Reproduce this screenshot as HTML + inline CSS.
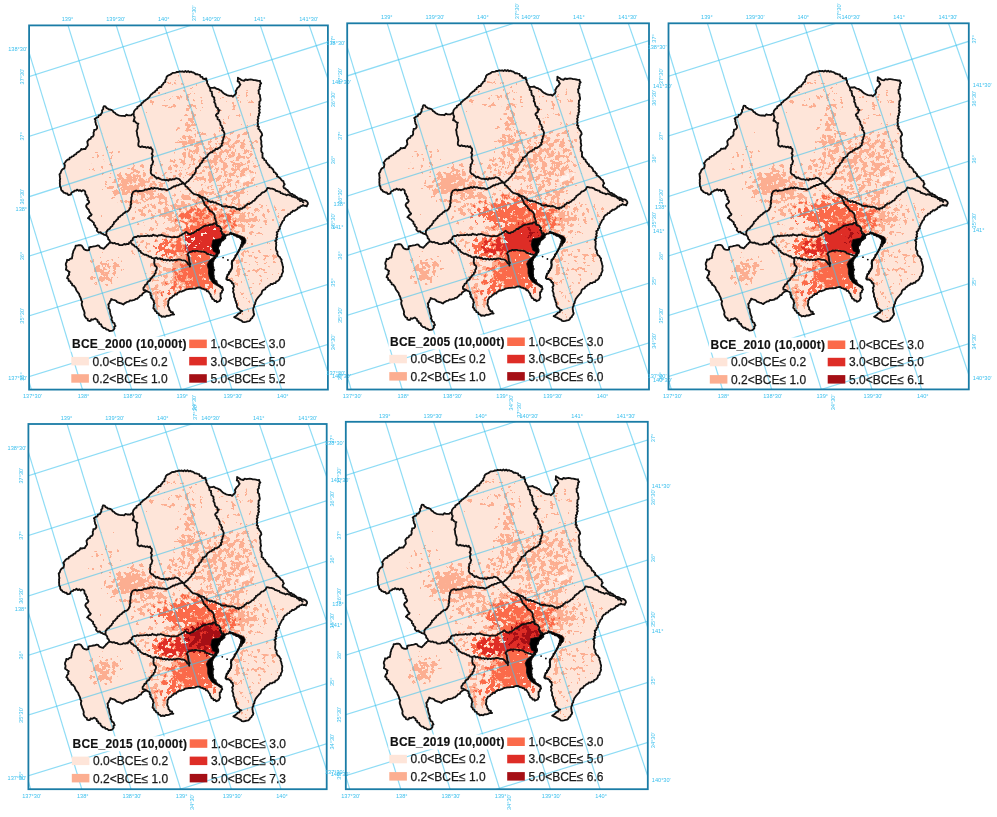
<!DOCTYPE html>
<html><head><meta charset="utf-8"><style>
html,body{margin:0;padding:0;background:#fff;}
svg{display:block;font-family:"Liberation Sans",sans-serif;filter:blur(0.4px);}
.frame{fill:none;stroke:#1a7ca6;stroke-width:1.8}
.lt{font-weight:bold;font-size:12px;letter-spacing:0.22px;fill:#111;stroke:#111;stroke-width:0.15px}
.lg{font-size:12px;fill:#1a1a1a;stroke:#1a1a1a;stroke-width:0.25px}
</style></head><body>
<svg width="997" height="817" viewBox="0 0 997 817">
<defs>
<filter id="s1" filterUnits="userSpaceOnUse" x="40" y="60" width="280" height="280" color-interpolation-filters="sRGB">
<feGaussianBlur in="SourceAlpha" stdDeviation="5" result="d0"/>
<feComponentTransfer in="d0" result="d"><feFuncA type="table" tableValues="0.000 0.298 0.341 0.373 0.396 0.420 0.439 0.455 0.475 0.490 0.502 0.510 0.525 0.545 0.561 0.580 0.604 0.627 0.659 0.702 0.8"/></feComponentTransfer>
<feTurbulence type="fractalNoise" baseFrequency="0.22" numOctaves="3" seed="11" result="n"/>
<feComposite in="d" in2="n" operator="arithmetic" k2="1" k3="1" k4="-1" result="v"/>
<feComponentTransfer in="v" result="m"><feFuncA type="linear" slope="60" intercept="0"/></feComponentTransfer>
<feFlood flood-color="#fcae91"/>
<feComposite in2="m" operator="in"/>
<feGaussianBlur stdDeviation="0.35"/>
</filter>
<filter id="s2" filterUnits="userSpaceOnUse" x="40" y="60" width="280" height="280" color-interpolation-filters="sRGB">
<feGaussianBlur in="SourceAlpha" stdDeviation="3" result="d0"/>
<feComponentTransfer in="d0" result="d"><feFuncA type="table" tableValues="0.000 0.298 0.341 0.373 0.396 0.420 0.439 0.455 0.475 0.490 0.502 0.510 0.525 0.545 0.561 0.580 0.604 0.627 0.659 0.702 0.8"/></feComponentTransfer>
<feTurbulence type="fractalNoise" baseFrequency="0.22" numOctaves="3" seed="11" result="n"/>
<feComposite in="d" in2="n" operator="arithmetic" k2="1" k3="1" k4="-1" result="v"/>
<feComponentTransfer in="v" result="m"><feFuncA type="linear" slope="60" intercept="0"/></feComponentTransfer>
<feFlood flood-color="#fb6a4a"/>
<feComposite in2="m" operator="in"/>
<feGaussianBlur stdDeviation="0.35"/>
</filter>
<filter id="s3" filterUnits="userSpaceOnUse" x="40" y="60" width="280" height="280" color-interpolation-filters="sRGB">
<feGaussianBlur in="SourceAlpha" stdDeviation="1.2" result="d0"/>
<feComponentTransfer in="d0" result="d"><feFuncA type="table" tableValues="0.000 0.298 0.341 0.373 0.396 0.420 0.439 0.455 0.475 0.490 0.502 0.510 0.525 0.545 0.561 0.580 0.604 0.627 0.659 0.702 0.8"/></feComponentTransfer>
<feTurbulence type="fractalNoise" baseFrequency="0.22" numOctaves="3" seed="11" result="n"/>
<feComposite in="d" in2="n" operator="arithmetic" k2="1" k3="1" k4="-1" result="v"/>
<feComponentTransfer in="v" result="m"><feFuncA type="linear" slope="60" intercept="0"/></feComponentTransfer>
<feFlood flood-color="#de2d26"/>
<feComposite in2="m" operator="in"/>
<feGaussianBlur stdDeviation="0.35"/>
</filter>
<filter id="s4" filterUnits="userSpaceOnUse" x="40" y="60" width="280" height="280" color-interpolation-filters="sRGB">
<feGaussianBlur in="SourceAlpha" stdDeviation="3" result="d0"/>
<feComponentTransfer in="d0" result="d"><feFuncA type="table" tableValues="0.000 0.298 0.341 0.373 0.396 0.420 0.439 0.455 0.475 0.490 0.502 0.510 0.525 0.545 0.561 0.580 0.604 0.627 0.659 0.702 0.8"/></feComponentTransfer>
<feTurbulence type="fractalNoise" baseFrequency="0.22" numOctaves="3" seed="11" result="n"/>
<feComposite in="d" in2="n" operator="arithmetic" k2="1" k3="1" k4="-1" result="v"/>
<feComponentTransfer in="v" result="m"><feFuncA type="linear" slope="60" intercept="0"/></feComponentTransfer>
<feFlood flood-color="#a50f15"/>
<feComposite in2="m" operator="in"/>
<feGaussianBlur stdDeviation="0.35"/>
</filter>
<clipPath id="kclip"><polygon points="103.9,106.1 106.3,108.0 111.2,109.8 113.6,112.2 118.5,115.3 123.4,115.9 129.6,115.3 133.5,114.0 135.0,110.0 139.6,105.3 148.2,98.0 155.5,90.6 162.8,84.5 165.3,82.0 166.5,77.1 172.6,72.9 181.2,71.6 191.0,71.6 198.3,74.7 204.5,79.0 206.3,78.4 208.1,84.5 209.8,88.2 214.7,87.5 219.6,90.0 223.3,93.0 228.2,95.5 233.0,96.7 235.5,94.3 236.7,89.4 240.4,84.5 237.9,79.6 237.9,77.7 241.6,80.2 244.1,80.8 249.0,79.6 255.1,80.2 260.0,80.8 261.2,83.3 260.0,84.5 258.8,91.8 260.0,96.7 260.6,99.2 259.4,101.6 260.0,106.5 258.8,113.9 258.1,121.2 257.5,126.1 260.0,131.0 261.8,133.4 260.6,138.3 261.2,143.2 261.2,148.1 262.6,156.1 264.3,160.0 267.5,163.5 273.6,170.8 278.5,176.9 283.4,181.2 284.7,184.3 283.4,186.7 288.3,191.6 295.7,196.5 303.0,200.2 306.7,201.4 307.9,203.9 306.7,206.3 303.0,205.0 298.1,207.5 295.7,210.0 290.8,212.4 285.9,216.1 282.2,222.2 278.5,229.6 276.1,238.1 275.9,247.8 277.7,254.7 281.6,259.6 282.6,265.5 283.1,271.3 281.6,276.2 278.7,280.2 273.8,283.1 267.3,287.0 262.2,291.0 260.2,295.0 256.2,300.0 254.2,305.0 253.2,310.0 254.2,314.1 252.2,318.1 249.2,321.1 244.2,322.1 240.2,320.1 236.2,318.1 234.2,317.1 237.2,315.1 240.2,313.1 242.2,311.1 239.2,309.1 237.2,307.1 236.2,303.1 235.2,300.1 234.2,295.0 233.6,290.0 233.6,285.0 233.4,283.9 230.3,280.7 226.3,279.1 227.1,276.0 230.3,271.2 231.8,267.2 231.8,262.4 234.2,258.4 237.4,252.9 239.8,248.9 241.8,244.1 242.2,240.1 239.8,237.7 234.2,235.4 230.3,233.0 226.3,235.4 223.9,239.3 220.7,242.5 218.3,247.3 219.1,252.1 215.9,256.8 212.7,262.4 213.5,267.2 213.5,272.8 214.3,279.1 217.5,283.9 222.3,287.1 223.1,290.0 220.6,295.0 221.1,298.5 218.5,301.5 216.9,302.2 214.5,301.0 210.8,296.1 208.3,291.2 203.4,288.8 198.5,287.5 191.2,288.8 185.1,290.0 179.0,292.4 172.8,296.1 169.2,299.8 167.9,305.9 170.4,310.8 174.1,314.5 171.6,314.5 166.7,315.7 161.8,316.9 156.9,313.2 153.3,308.3 154.5,303.4 152.0,298.5 149.6,292.4 147.1,291.2 143.5,293.0 138.1,297.7 133.2,300.2 125.9,302.6 123.4,304.5 118.5,302.6 114.9,300.2 111.2,299.0 110.0,301.4 108.8,306.3 110.0,311.2 111.2,316.1 112.4,321.0 115.5,325.9 113.6,329.6 111.2,330.8 106.3,329.6 102.6,327.1 99.0,322.2 95.3,318.5 89.2,321.0 85.5,317.3 83.0,308.8 81.8,305.1 81.2,300.2 80.0,296.5 78.2,292.8 74.5,286.7 70.8,283.0 67.1,278.1 69.6,272.0 65.9,269.6 65.9,263.4 67.1,259.8 72.0,258.5 73.3,251.2 75.7,245.7 81.8,245.7 83.0,247.5 85.5,250.0 89.2,250.0 89.2,247.5 94.1,246.3 99.0,245.7 100.2,247.5 103.9,248.8 106.3,246.3 110.0,242.6 110.0,241.4 106.3,235.3 103.9,234.7 97.7,231.6 95.3,225.5 91.6,220.6 87.9,218.2 91.6,214.5 89.2,211.4 86.1,205.9 89.2,202.2 86.7,196.7 84.3,190.6 74.5,190.6 69.6,194.9 65.9,193.6 61.6,190.6 59.8,183.2 59.8,175.9 61.6,170.4 64.7,166.7 64.1,163.6 65.9,161.2 72.0,156.3 79.4,151.4 81.2,149.0 85.5,149.0 87.9,145.3 87.3,141.6 89.2,139.2 93.5,135.5 94.1,130.0 97.1,128.2 95.9,124.5 94.7,119.0 96.5,117.7 101.4,113.5 103.2,109.2"/></clipPath>
<clipPath id="tclip"><polygon points="130.8,242.6 133.7,237.3 142.2,236.1 154.5,235.5 163.0,235.5 171.6,237.3 179.0,236.7 183.9,233.7 186.3,231.8 189.0,234.0 193.6,233.0 201.0,228.1 205.9,225.7 210.8,224.5 215.7,223.2 218.5,226.0 220.6,228.1 222.0,232.0 223.5,236.5 221.1,239.4 218.2,242.3 216.2,246.2 217.2,251.1 216.2,256.0 213.2,255.7 209.6,254.5 204.7,252.0 197.3,250.8 190.0,252.0 187.5,254.5 188.8,256.9 190.0,266.7 187.5,263.0 185.1,260.6 179.0,259.4 172.8,260.6 166.7,260.6 159.4,258.2 153.3,258.2 148.4,255.7 142.2,253.3 137.3,248.4 132.4,244.7"/></clipPath>
<g id="mapbase"><polygon points="103.9,106.1 106.3,108.0 111.2,109.8 113.6,112.2 118.5,115.3 123.4,115.9 129.6,115.3 133.5,114.0 135.0,110.0 139.6,105.3 148.2,98.0 155.5,90.6 162.8,84.5 165.3,82.0 166.5,77.1 172.6,72.9 181.2,71.6 191.0,71.6 198.3,74.7 204.5,79.0 206.3,78.4 208.1,84.5 209.8,88.2 214.7,87.5 219.6,90.0 223.3,93.0 228.2,95.5 233.0,96.7 235.5,94.3 236.7,89.4 240.4,84.5 237.9,79.6 237.9,77.7 241.6,80.2 244.1,80.8 249.0,79.6 255.1,80.2 260.0,80.8 261.2,83.3 260.0,84.5 258.8,91.8 260.0,96.7 260.6,99.2 259.4,101.6 260.0,106.5 258.8,113.9 258.1,121.2 257.5,126.1 260.0,131.0 261.8,133.4 260.6,138.3 261.2,143.2 261.2,148.1 262.6,156.1 264.3,160.0 267.5,163.5 273.6,170.8 278.5,176.9 283.4,181.2 284.7,184.3 283.4,186.7 288.3,191.6 295.7,196.5 303.0,200.2 306.7,201.4 307.9,203.9 306.7,206.3 303.0,205.0 298.1,207.5 295.7,210.0 290.8,212.4 285.9,216.1 282.2,222.2 278.5,229.6 276.1,238.1 275.9,247.8 277.7,254.7 281.6,259.6 282.6,265.5 283.1,271.3 281.6,276.2 278.7,280.2 273.8,283.1 267.3,287.0 262.2,291.0 260.2,295.0 256.2,300.0 254.2,305.0 253.2,310.0 254.2,314.1 252.2,318.1 249.2,321.1 244.2,322.1 240.2,320.1 236.2,318.1 234.2,317.1 237.2,315.1 240.2,313.1 242.2,311.1 239.2,309.1 237.2,307.1 236.2,303.1 235.2,300.1 234.2,295.0 233.6,290.0 233.6,285.0 233.4,283.9 230.3,280.7 226.3,279.1 227.1,276.0 230.3,271.2 231.8,267.2 231.8,262.4 234.2,258.4 237.4,252.9 239.8,248.9 241.8,244.1 242.2,240.1 239.8,237.7 234.2,235.4 230.3,233.0 226.3,235.4 223.9,239.3 220.7,242.5 218.3,247.3 219.1,252.1 215.9,256.8 212.7,262.4 213.5,267.2 213.5,272.8 214.3,279.1 217.5,283.9 222.3,287.1 223.1,290.0 220.6,295.0 221.1,298.5 218.5,301.5 216.9,302.2 214.5,301.0 210.8,296.1 208.3,291.2 203.4,288.8 198.5,287.5 191.2,288.8 185.1,290.0 179.0,292.4 172.8,296.1 169.2,299.8 167.9,305.9 170.4,310.8 174.1,314.5 171.6,314.5 166.7,315.7 161.8,316.9 156.9,313.2 153.3,308.3 154.5,303.4 152.0,298.5 149.6,292.4 147.1,291.2 143.5,293.0 138.1,297.7 133.2,300.2 125.9,302.6 123.4,304.5 118.5,302.6 114.9,300.2 111.2,299.0 110.0,301.4 108.8,306.3 110.0,311.2 111.2,316.1 112.4,321.0 115.5,325.9 113.6,329.6 111.2,330.8 106.3,329.6 102.6,327.1 99.0,322.2 95.3,318.5 89.2,321.0 85.5,317.3 83.0,308.8 81.8,305.1 81.2,300.2 80.0,296.5 78.2,292.8 74.5,286.7 70.8,283.0 67.1,278.1 69.6,272.0 65.9,269.6 65.9,263.4 67.1,259.8 72.0,258.5 73.3,251.2 75.7,245.7 81.8,245.7 83.0,247.5 85.5,250.0 89.2,250.0 89.2,247.5 94.1,246.3 99.0,245.7 100.2,247.5 103.9,248.8 106.3,246.3 110.0,242.6 110.0,241.4 106.3,235.3 103.9,234.7 97.7,231.6 95.3,225.5 91.6,220.6 87.9,218.2 91.6,214.5 89.2,211.4 86.1,205.9 89.2,202.2 86.7,196.7 84.3,190.6 74.5,190.6 69.6,194.9 65.9,193.6 61.6,190.6 59.8,183.2 59.8,175.9 61.6,170.4 64.7,166.7 64.1,163.6 65.9,161.2 72.0,156.3 79.4,151.4 81.2,149.0 85.5,149.0 87.9,145.3 87.3,141.6 89.2,139.2 93.5,135.5 94.1,130.0 97.1,128.2 95.9,124.5 94.7,119.0 96.5,117.7 101.4,113.5 103.2,109.2" fill="#fee5d9"/></g>
<g id="gridl" stroke="#3cc2ee" stroke-opacity="0.58" stroke-width="1.2"><line x1="-91.5" y1="-20" x2="40.5" y2="420"/>
<line x1="-41.4" y1="-20" x2="91.7" y2="420"/>
<line x1="7.0" y1="-20" x2="141.0" y2="420"/>
<line x1="53.9" y1="-20" x2="190.8" y2="420"/>
<line x1="101.8" y1="-20" x2="241.7" y2="420"/>
<line x1="149.7" y1="-20" x2="291.5" y2="420"/>
<line x1="196.9" y1="-20" x2="343.9" y2="420"/>
<line x1="244.8" y1="-20" x2="394.9" y2="420"/>
<line x1="293.3" y1="-20" x2="447.3" y2="420"/>
<line x1="0" y1="85.7" x2="360" y2="-28.2"/>
<line x1="0" y1="145.5" x2="360" y2="31.9"/>
<line x1="0" y1="206.0" x2="360" y2="91.2"/>
<line x1="0" y1="265.3" x2="360" y2="151.9"/>
<line x1="0" y1="324.8" x2="360" y2="213.4"/>
<line x1="0" y1="385.6" x2="360" y2="274.6"/>
<line x1="0" y1="446.0" x2="360" y2="334.5"/></g>
<g id="bnd" fill="none" stroke="#111" stroke-width="1.85" stroke-linejoin="round"><polygon points="103.9,106.1 105.6,106.4 106.3,108.0 107.6,108.3 108.6,109.3 109.9,109.5 111.2,109.8 112.7,110.7 113.6,112.2 115.0,112.8 115.9,114.0 117.2,114.6 118.5,115.3 120.1,115.7 121.7,115.9 123.4,115.9 125.0,116.2 126.4,114.7 128.0,115.3 129.6,115.3 131.1,115.4 132.2,114.3 133.5,114.0 133.8,112.6 134.1,111.2 135.0,110.0 135.9,109.0 137.3,108.5 137.3,106.8 138.7,106.3 139.6,105.3 141.1,104.9 141.6,103.3 142.9,102.6 143.7,101.4 144.9,100.7 146.0,99.8 147.2,99.0 148.2,98.0 149.4,97.1 150.1,95.7 151.0,94.5 152.3,93.7 153.3,92.6 154.8,92.0 155.5,90.6 156.9,90.2 157.3,88.5 158.7,88.0 159.4,86.8 161.3,87.0 161.7,85.3 162.8,84.5 163.6,82.8 165.3,82.0 165.2,80.2 166.3,78.8 166.5,77.1 167.5,75.9 168.8,75.2 170.2,74.6 171.5,73.9 172.6,72.9 174.0,72.8 175.5,72.7 176.9,71.9 178.3,72.0 179.7,71.3 181.2,71.6 182.6,71.3 184.0,72.0 185.4,71.0 186.8,72.0 188.2,71.1 189.6,72.2 191.0,71.6 192.1,72.3 193.5,72.5 194.6,73.2 195.7,74.2 197.1,74.2 198.3,74.7 200.0,74.9 200.5,76.8 202.3,76.9 202.9,78.6 204.5,79.0 206.3,78.4 206.3,80.1 207.2,81.4 207.0,83.2 208.1,84.5 208.4,85.8 209.4,86.9 209.8,88.2 211.4,87.9 213.1,87.9 214.7,87.5 215.8,88.4 217.0,89.0 218.5,89.2 219.6,90.0 221.1,90.7 222.2,91.9 223.3,93.0 224.4,93.8 225.7,94.4 226.9,95.1 228.2,95.5 229.8,95.8 231.6,95.7 233.0,96.7 234.1,95.4 235.5,94.3 236.2,92.7 235.7,90.9 236.7,89.4 237.4,88.0 238.7,87.1 239.6,85.8 240.4,84.5 239.5,83.4 239.2,82.0 237.6,81.3 237.9,79.6 237.9,77.7 239.1,78.5 240.4,79.3 241.6,80.2 244.1,80.8 245.5,79.5 247.4,80.0 249.0,79.6 250.5,79.5 252.1,79.7 253.6,80.1 255.1,80.2 256.7,80.5 258.3,80.9 260.0,80.8 260.2,82.2 261.2,83.3 260.0,84.5 260.2,86.0 259.5,87.4 259.8,89.0 258.5,90.3 258.8,91.8 258.7,93.5 260.0,95.0 260.0,96.7 260.6,99.2 260.5,100.6 259.4,101.6 259.5,103.2 259.1,105.0 260.0,106.5 258.8,107.8 259.8,109.5 259.0,110.9 259.9,112.6 258.8,113.9 259.2,115.4 257.9,116.8 258.6,118.3 257.5,119.7 258.1,121.2 257.6,122.8 258.1,124.5 257.5,126.1 258.9,126.9 258.2,128.8 259.6,129.7 260.0,131.0 261.1,132.1 261.8,133.4 262.2,135.2 261.0,136.7 260.6,138.3 261.0,139.9 261.4,141.5 261.2,143.2 261.4,144.8 261.9,146.5 261.2,148.1 261.3,149.5 261.2,150.8 261.7,152.1 262.7,153.3 262.4,154.8 262.6,156.1 262.4,157.7 264.0,158.6 264.3,160.0 266.0,160.6 266.3,162.5 267.5,163.5 268.1,164.8 269.5,165.4 269.4,167.2 271.2,167.5 272.1,168.5 273.1,169.5 273.6,170.8 273.9,172.2 275.5,172.6 276.0,173.9 277.2,174.6 277.0,176.4 278.5,176.9 279.4,177.8 280.5,178.6 281.2,179.7 282.1,180.7 283.4,181.2 283.8,182.9 284.7,184.3 283.8,185.4 283.4,186.7 284.0,188.1 285.5,188.5 286.3,189.7 287.7,190.2 288.3,191.6 289.5,192.5 290.4,193.8 292.2,193.8 293.1,195.0 294.7,195.3 295.7,196.5 296.9,197.1 297.9,198.3 299.3,198.4 300.7,198.7 301.9,199.4 303.0,200.2 305.0,200.3 306.7,201.4 307.7,202.5 307.9,203.9 307.2,205.0 306.7,206.3 305.5,205.8 304.1,205.9 303.0,205.0 301.9,206.0 300.5,206.1 299.7,207.6 298.1,207.5 297.3,209.2 295.7,210.0 294.6,210.9 293.0,210.6 292.1,212.0 290.8,212.4 290.1,214.0 288.2,214.1 287.5,215.7 285.9,216.1 285.0,217.3 284.2,218.4 284.1,220.0 282.8,220.9 282.2,222.2 281.6,223.5 280.8,224.6 280.5,226.0 279.6,227.0 279.9,228.8 278.5,229.6 278.4,231.1 276.7,232.2 277.4,233.9 276.6,235.2 277.3,236.9 276.1,238.1 276.8,239.5 275.2,240.9 276.4,242.3 276.0,243.6 276.3,245.0 276.1,246.4 275.9,247.8 276.0,249.2 276.4,250.6 277.5,251.8 277.2,253.4 277.7,254.7 278.4,256.2 279.9,257.0 280.5,258.5 281.6,259.6 281.3,261.2 282.0,262.6 282.3,264.0 282.6,265.5 283.1,266.9 283.0,268.4 282.7,269.9 283.1,271.3 282.5,272.9 281.7,274.4 281.6,276.2 280.0,277.1 279.7,278.9 278.7,280.2 277.6,281.1 276.2,281.5 275.5,283.1 273.8,283.1 272.7,284.2 270.7,283.9 269.9,285.4 268.3,285.7 267.3,287.0 265.8,287.7 265.1,289.4 263.4,289.9 262.2,291.0 261.8,292.4 261.4,293.9 260.2,295.0 259.2,296.2 258.1,297.4 257.1,298.7 256.2,300.0 255.8,301.3 255.2,302.5 255.2,303.9 254.2,305.0 254.1,306.7 253.3,308.3 253.2,310.0 253.5,311.4 253.6,312.8 254.2,314.1 253.8,315.6 252.7,316.7 252.2,318.1 250.9,318.8 250.3,320.2 249.2,321.1 247.5,321.4 245.9,321.8 244.2,322.1 242.6,321.9 241.6,320.7 240.2,320.1 238.9,319.4 237.6,318.6 236.2,318.1 234.2,317.1 235.8,316.2 237.2,315.1 238.4,313.7 240.2,313.1 240.7,311.6 242.2,311.1 240.4,310.5 239.2,309.1 237.9,308.4 237.2,307.1 236.8,305.8 237.0,304.3 236.2,303.1 235.9,301.5 235.2,300.1 235.1,298.4 234.0,296.8 234.2,295.0 233.8,293.4 233.0,291.8 233.6,290.0 232.9,288.3 234.0,286.7 233.6,285.0 233.4,283.9 232.0,283.2 231.5,281.6 230.3,280.7 229.1,279.9 227.4,280.1 226.3,279.1 226.6,277.5 227.1,276.0 227.5,274.5 229.0,273.8 228.9,272.0 230.3,271.2 230.5,269.7 231.9,268.8 231.8,267.2 232.2,265.6 231.6,264.0 231.8,262.4 232.0,260.7 233.5,259.8 234.2,258.4 235.3,257.2 235.4,255.4 236.8,254.4 237.4,252.9 238.4,251.7 238.8,250.1 239.8,248.9 240.1,247.6 240.8,246.5 240.9,245.1 241.8,244.1 241.7,242.7 242.1,241.4 242.2,240.1 240.9,239.0 239.8,237.7 238.5,236.8 236.9,236.8 235.9,235.2 234.2,235.4 233.4,233.8 231.4,234.1 230.3,233.0 229.4,234.5 227.6,234.6 226.3,235.4 225.1,236.5 225.3,238.3 223.9,239.3 222.9,240.4 221.3,241.0 220.7,242.5 220.1,243.7 220.0,245.1 218.6,246.0 218.3,247.3 217.8,249.0 219.0,250.5 219.1,252.1 218.6,253.5 217.2,254.3 217.3,256.0 215.9,256.8 215.1,258.2 213.6,259.2 213.5,261.0 212.7,262.4 212.9,264.0 212.4,265.7 213.5,267.2 213.2,268.6 214.3,270.0 213.3,271.4 213.5,272.8 213.1,274.4 213.8,276.0 213.2,277.6 214.3,279.1 214.8,280.5 216.5,281.1 216.7,282.7 217.5,283.9 218.4,285.2 219.9,285.5 220.9,286.6 222.3,287.1 222.6,288.6 223.1,290.0 222.0,291.0 221.9,292.5 220.5,293.4 220.6,295.0 220.5,296.8 221.1,298.5 220.2,299.4 219.8,300.9 218.5,301.5 216.9,302.2 216.1,300.8 214.5,301.0 213.9,299.5 212.2,298.9 211.8,297.3 210.8,296.1 210.7,294.6 209.7,293.6 209.0,292.4 208.3,291.2 206.8,291.2 206.1,289.6 204.5,289.6 203.4,288.8 201.7,288.5 200.3,287.4 198.5,287.5 197.0,287.7 195.7,288.5 194.2,288.6 192.7,288.6 191.2,288.8 189.6,288.8 188.1,289.2 186.5,289.3 185.1,290.0 184.0,290.7 182.7,291.0 181.5,291.7 180.0,291.3 179.0,292.4 177.6,292.9 176.9,294.5 175.0,294.2 174.2,295.6 172.8,296.1 171.9,297.6 169.9,298.1 169.2,299.8 168.2,301.2 168.4,302.8 168.1,304.4 167.9,305.9 168.7,307.1 169.3,308.3 169.2,309.8 170.4,310.8 170.9,312.1 172.8,312.1 173.0,313.8 174.1,314.5 171.6,314.5 170.1,315.4 168.5,315.9 166.7,315.7 165.2,316.8 163.4,316.3 161.8,316.9 160.8,315.6 159.2,315.2 158.7,313.4 156.9,313.2 156.5,311.6 155.0,310.9 154.5,309.3 153.3,308.3 153.7,306.7 153.7,304.9 154.5,303.4 153.8,302.2 153.7,300.7 152.8,299.6 152.0,298.5 151.0,297.5 151.5,295.9 150.4,294.9 150.6,293.4 149.6,292.4 148.3,291.9 147.1,291.2 145.8,291.7 144.6,292.1 143.5,293.0 142.4,293.9 141.8,295.4 140.0,295.6 139.3,296.9 138.1,297.7 137.2,298.9 135.6,298.9 134.6,299.9 133.2,300.2 131.7,300.6 130.0,300.4 128.8,301.7 127.3,301.8 125.9,302.6 124.5,303.4 123.4,304.5 122.2,303.9 121.1,303.3 119.7,303.0 118.5,302.6 117.1,302.1 116.2,300.9 114.9,300.2 113.0,299.8 111.2,299.0 111.0,300.4 110.0,301.4 109.6,303.0 108.3,304.4 108.8,306.3 108.5,308.1 109.7,309.5 110.0,311.2 110.2,312.9 110.6,314.5 111.2,316.1 111.9,317.7 111.4,319.5 112.4,321.0 112.7,322.5 114.4,323.2 114.8,324.6 115.5,325.9 114.2,326.8 114.5,328.5 113.6,329.6 112.6,330.6 111.2,330.8 109.4,331.0 108.0,329.6 106.3,329.6 105.5,328.1 103.7,328.1 102.6,327.1 101.5,326.0 101.2,324.4 99.2,323.9 99.0,322.2 97.6,321.8 97.5,320.0 96.2,319.4 95.3,318.5 94.1,319.0 92.9,319.7 91.3,319.3 90.6,320.9 89.2,321.0 87.8,320.5 87.7,318.8 86.4,318.3 85.5,317.3 84.7,316.0 84.3,314.6 84.6,313.0 84.2,311.5 83.7,310.1 83.0,308.8 82.5,306.9 81.8,305.1 81.7,303.5 82.2,301.7 81.2,300.2 80.9,298.3 80.0,296.5 79.4,295.3 79.1,293.9 78.2,292.8 77.3,291.7 76.4,290.5 75.9,289.2 75.5,287.8 74.5,286.7 73.7,285.7 72.2,285.3 72.0,283.6 70.8,283.0 70.4,281.4 68.7,280.8 68.5,279.0 67.1,278.1 67.6,276.9 68.1,275.7 69.2,274.7 68.9,273.1 69.6,272.0 68.4,271.2 67.2,270.3 65.9,269.6 66.2,268.1 66.4,266.5 65.8,264.9 65.9,263.4 66.8,261.7 67.1,259.8 68.9,260.1 70.3,258.7 72.0,258.5 72.1,257.0 72.5,255.6 72.5,254.1 73.1,252.7 73.3,251.2 74.0,249.9 74.8,248.6 75.3,247.2 75.7,245.7 77.2,245.6 78.8,245.2 80.3,245.2 81.8,245.7 83.0,247.5 83.9,249.1 85.5,250.0 87.3,250.3 89.2,250.0 89.2,247.5 90.8,247.0 92.5,246.7 94.1,246.3 95.7,246.1 97.3,245.5 99.0,245.7 100.2,247.5 101.4,247.9 102.7,248.3 103.9,248.8 105.0,247.4 106.3,246.3 107.0,245.1 108.1,244.4 108.9,243.3 110.0,242.6 110.0,241.4 109.4,240.1 108.2,239.2 108.1,237.6 107.3,236.4 106.3,235.3 103.9,234.7 102.8,233.8 101.4,233.4 100.5,232.1 98.7,232.6 97.7,231.6 96.8,230.6 97.3,228.9 96.4,227.9 95.2,226.9 95.3,225.5 93.9,224.6 93.9,222.7 92.5,221.8 91.6,220.6 90.2,220.0 89.3,218.8 87.9,218.2 88.9,217.3 89.6,216.2 91.0,215.7 91.6,214.5 90.6,213.6 89.9,212.5 89.2,211.4 88.8,209.8 87.6,208.7 86.6,207.4 86.1,205.9 86.8,204.4 88.3,203.6 89.2,202.2 88.7,200.8 87.4,199.7 87.9,197.8 86.7,196.7 86.6,195.3 85.4,194.4 85.3,193.0 85.2,191.7 84.3,190.6 82.9,190.2 81.5,191.4 80.1,190.1 78.7,190.9 77.3,189.6 75.9,190.7 74.5,190.6 73.8,191.7 72.3,192.1 71.3,192.9 70.9,194.4 69.6,194.9 68.2,195.0 67.3,193.5 65.9,193.6 64.8,192.8 63.5,192.5 62.8,191.2 61.6,190.6 61.0,189.2 60.9,187.6 60.0,186.3 60.0,184.7 59.8,183.2 60.0,181.7 59.8,180.3 60.2,178.8 59.9,177.4 59.8,175.9 59.5,174.3 60.6,173.1 61.0,171.7 61.6,170.4 62.7,169.2 64.3,168.5 64.7,166.7 64.9,165.1 64.1,163.6 65.1,162.5 65.9,161.2 66.8,160.3 67.9,159.5 69.4,159.3 69.7,157.6 71.2,157.3 72.0,156.3 73.6,156.1 74.4,154.6 76.0,154.3 76.8,152.8 78.1,152.1 79.4,151.4 80.6,150.4 81.2,149.0 82.6,149.3 84.1,148.9 85.5,149.0 86.1,147.6 87.0,146.5 87.9,145.3 87.6,143.5 87.3,141.6 88.2,140.4 89.2,139.2 90.7,138.8 91.2,137.2 92.7,136.7 93.5,135.5 93.7,134.1 93.5,132.7 94.1,131.4 94.1,130.0 96.0,129.7 97.1,128.2 97.0,126.2 95.9,124.5 95.8,123.1 95.3,121.8 95.5,120.3 94.7,119.0 96.5,117.7 98.2,117.2 98.8,115.4 100.6,115.0 101.4,113.5 102.2,112.1 102.0,110.4 103.2,109.2 103.2,107.6"/>
<polygon points="223.6,233.0 220.8,238.5 212.9,240.1 211.7,245.7 213.3,251.3 216.4,252.9 214.0,256.8 209.1,260.8 207.1,264.8 208.5,269.6 208.5,274.4 209.9,279.1 212.9,283.1 218.2,286.3 221.7,288.7 222.3,287.1 217.5,283.9 214.3,279.1 213.5,272.8 213.5,267.2 212.7,262.4 215.9,256.8 219.1,252.1 218.3,247.3 220.7,242.5 223.9,239.3 226.3,235.4" fill="#000" stroke-width="0.8"/>
<polygon points="230.3,232.2 236.0,234.2 241.0,236.0 244.5,237.5 246.0,240.0 245.5,243.0 243.5,245.0 242.3,247.5 242.5,244.1 240.5,248.9 238.1,252.9 234.9,258.4 232.5,262.4 232.5,267.2 231.0,271.2 227.8,276.0 227.0,279.1 231.0,280.7 234.1,283.9 233.4,283.9 230.3,280.7 226.3,279.1 227.1,276.0 230.3,271.2 231.8,267.2 231.8,262.4 234.2,258.4 237.4,252.9 239.8,248.9 241.8,244.1 242.2,240.1 239.8,237.7 234.2,235.4 230.3,233.0" fill="#000" stroke-width="0.8"/>
<circle cx="223.1" cy="257.6" r="0.9" fill="#000" stroke="none"/><circle cx="227.9" cy="260" r="0.9" fill="#000" stroke="none"/>
<polyline points="133.5,114.0 133.9,115.8 134.7,117.5 134.1,119.4 133.5,121.2 135.0,121.2 135.9,122.5 137.0,123.3 138.4,123.6 137.6,125.0 137.7,126.6 137.7,128.1 137.1,129.6 136.5,131.0 137.0,132.4 137.1,134.0 137.3,135.5 137.8,136.9 138.4,138.3 138.5,139.8 138.9,141.3 138.5,142.7 138.3,144.2 138.4,145.7 139.4,146.5 140.6,147.1 142.1,146.2 143.5,147.1 145.0,146.9 146.4,147.8 147.9,147.0 149.3,148.1 150.8,147.3 151.2,148.6 152.5,149.5 152.6,151.0 152.5,152.5 151.6,153.9 152.8,155.5 152.2,156.9 152.0,158.4 152.3,160.0 153.2,161.6 152.6,163.3 152.4,164.6 151.1,165.5 151.4,167.0 150.8,168.2 151.2,169.8 150.8,171.4 150.8,173.0 151.5,174.1 152.4,175.1 154.0,175.3 154.5,176.7 155.8,177.1 156.6,178.6 158.4,177.7 159.4,178.7 160.6,179.2 162.2,179.8 164.0,179.6 165.5,180.4 166.9,179.7 168.5,180.7 169.8,179.2 171.4,179.9 172.8,179.2 174.5,179.3 176.0,178.1 177.7,178.6 179.3,179.1 180.3,180.4 181.4,181.6 183.0,182.5 184.0,184.0"/>
<polyline points="209.8,88.2 210.3,89.4 210.2,90.9 211.9,91.6 211.7,93.1 212.2,94.3 212.1,95.8 213.2,96.7 214.3,97.7 214.1,99.2 214.7,100.4 214.2,102.1 215.3,103.5 215.5,105.0 215.9,106.5 216.6,107.6 218.0,108.1 218.1,109.9 219.6,110.2 218.6,111.4 218.3,113.1 216.9,113.9 215.9,115.1 216.4,116.5 217.7,117.3 217.5,119.1 219.2,119.8 219.6,121.2 220.4,122.3 220.4,123.7 220.6,125.0 221.9,125.9 222.0,127.3 223.0,128.3 222.1,130.1 223.5,131.0 223.9,132.2 224.5,133.4 224.3,135.0 224.1,136.5 223.3,138.0 223.3,139.6 222.2,141.0 222.8,142.7 221.6,144.0 222.0,145.7 220.6,146.2 219.9,147.7 218.4,148.1 217.4,149.2 215.4,149.0 214.7,150.6 213.2,150.6 212.3,152.2 210.8,152.2 209.8,153.1 208.6,153.9 207.7,155.0 207.3,156.6 205.9,157.1 205.1,158.2 203.4,158.3 203.5,160.2 202.2,160.8 202.2,162.3 201.0,163.3 199.9,164.2 199.8,165.7 198.5,166.5 197.6,167.8 196.1,168.2 195.9,169.8 195.8,171.5 194.9,173.0 194.3,174.5 192.7,175.2 192.3,176.8 191.2,177.9 190.2,178.9 189.2,179.8 188.5,181.1 187.1,181.6 186.3,182.8 184.0,184.0"/>
<polyline points="106.3,235.3 106.4,233.6 106.4,231.9 107.5,230.4 108.3,229.3 109.7,228.9 110.3,227.7 111.2,226.7 112.4,226.0 112.8,224.6 113.9,223.8 113.9,222.2 115.3,221.6 116.1,220.6 116.9,219.6 118.1,218.9 118.3,217.2 119.8,216.9 120.8,215.5 122.5,214.8 123.4,213.3 124.7,212.9 125.6,211.6 127.2,211.7 128.3,210.8 129.3,209.7 130.0,208.3 130.8,207.1 130.5,205.5 131.3,203.8 130.8,202.2 131.2,200.7 131.4,199.1 131.3,197.6 132.0,196.1 131.8,194.5 132.6,193.2 133.2,191.8 135.0,191.0 136.4,190.6 137.9,191.6 139.3,190.8 140.8,191.0 142.2,190.8 143.8,190.5 145.2,189.4 147.0,189.8 148.4,189.0 150.0,189.0 151.3,187.9 153.1,188.8 154.5,187.7 155.9,188.5 157.6,188.1 159.0,189.1 160.6,189.0 162.1,189.5 163.7,189.2 165.3,189.5 166.7,190.2 168.0,189.8 169.2,189.0 170.5,188.7 171.6,187.7 172.9,187.2 173.9,186.2 175.5,186.4 176.5,185.3 178.2,185.4 179.7,184.3 181.4,184.1 182.7,183.2 184.0,184.0"/>
<polyline points="184.0,184.0 185.2,184.8 185.5,186.4 187.1,186.8 187.8,188.0 188.8,189.0 189.7,190.0 190.7,191.0 191.6,192.1 192.6,193.0 193.6,193.9 195.5,194.3 197.3,195.0 198.7,195.1 199.9,195.7 200.9,196.6 202.2,196.9 203.4,197.5 204.9,197.8 205.7,199.2 207.3,199.5 207.9,201.2 209.6,201.2 210.7,202.4 212.6,201.4 213.7,202.6 215.5,202.3 216.9,203.7 218.6,203.9 219.7,204.7 221.2,204.9 222.0,206.3 223.5,206.3 225.0,206.5 226.6,206.0 228.0,207.1 229.6,206.9 231.2,207.5 232.9,207.0 234.5,207.5 235.8,208.0 236.7,209.3 238.5,208.8 239.4,210.0 240.2,208.5 242.1,208.8 243.0,207.5 244.6,207.3 245.3,205.6 246.7,205.1 247.5,203.7 249.3,204.1 250.3,203.1 251.6,202.6 252.7,201.2 254.5,200.7 255.3,199.0 256.5,198.4 256.8,196.8 258.2,196.4 259.0,195.3 260.5,194.9 261.3,193.5 262.4,192.5 263.9,192.2 265.1,191.3 266.3,190.4 266.9,189.1 267.5,187.9 269.0,188.2 270.5,188.7 272.1,188.6 273.6,189.2 274.9,189.7 275.8,190.8 277.3,191.0 278.5,191.6 280.0,191.7 280.8,193.2 282.2,193.4 283.4,194.1 285.0,194.3 286.4,195.3 288.1,194.5 289.6,195.3 291.1,195.2 291.9,196.6 293.3,196.8 294.5,197.1 295.7,197.7 297.2,197.9 298.0,199.4 299.5,199.6 300.2,201.1 302.1,200.7 302.9,202.1 304.2,202.6"/>
<polyline points="197.3,195.0 198.7,195.7 199.6,197.1 201.2,197.5 202.2,198.8 202.7,200.0 203.3,201.2 203.9,202.4 204.3,203.6 204.7,204.9 206.0,205.5 206.6,206.9 208.0,207.4 208.3,209.1 209.6,209.8 210.0,211.3 211.8,211.5 212.7,212.6 213.7,213.5 214.5,214.7 214.8,216.2 214.6,217.9 215.5,219.2 215.7,220.8 216.6,222.3 216.1,224.2 216.9,225.7 218.5,226.0 219.9,226.7 220.6,228.1 221.6,229.2 220.7,231.0 222.0,232.0 222.0,233.7 223.3,234.9 223.5,236.5"/>
<polyline points="110.0,242.6 111.6,242.7 113.0,243.3 114.7,242.9 116.1,243.9 117.9,243.8 119.3,245.0 121.0,245.1 122.6,245.0 124.2,244.0 125.9,244.5 127.0,243.8 128.6,244.1 129.3,242.3 130.8,242.6"/>
<polyline points="130.8,242.6 131.7,243.6 132.4,244.7 133.9,245.2 134.8,246.6 136.5,246.9 137.3,248.4 138.6,249.0 138.8,250.9 140.5,251.0 141.0,252.6 142.2,253.3 143.3,254.0 144.5,254.8 146.0,254.6 147.1,255.5 148.4,255.7 149.3,256.9 151.0,256.6 151.8,258.1 153.3,258.2"/>
<polyline points="153.3,258.2 154.2,259.2 154.5,260.6 154.2,262.5 154.5,264.3 155.0,265.7 156.3,266.6 156.9,267.9 156.6,269.6 155.6,271.0 155.7,272.8 154.5,273.8 154.2,275.5 152.7,276.3 152.0,277.7 150.7,278.8 150.0,280.6 148.4,281.4 147.3,282.5 147.0,284.2 145.2,284.8 144.7,286.3 143.4,287.9 143.5,290.0 145.4,290.2 147.1,291.2"/>
<polyline points="130.8,242.6 130.9,240.9 132.7,240.2 132.8,238.5 133.7,237.3 135.1,236.8 136.5,237.0 137.8,235.9 139.4,236.7 140.8,236.1 142.2,236.1 143.6,236.2 144.9,235.9 146.3,236.0 147.6,235.4 149.1,236.3 150.4,235.6 151.8,236.0 153.1,234.6 154.5,235.5 155.9,235.5 157.3,236.3 158.8,235.1 160.2,235.4 161.6,234.8 163.0,235.5 164.4,235.8 165.8,236.5 167.2,236.6 168.7,236.7 170.2,236.8 171.6,237.3 173.1,237.2 174.5,236.9 176.1,237.2 177.5,237.0 179.0,236.7 179.9,235.5 181.5,235.2 182.4,234.1 183.9,233.7 185.0,232.6 186.3,231.8 187.5,233.0 189.0,234.0 190.6,234.2 192.0,233.1 193.6,233.0 194.6,231.9 196.1,231.4 196.9,230.0 198.7,230.0 199.8,228.9 201.0,228.1 202.2,227.4 203.3,226.6 204.5,226.0 205.9,225.7 207.6,225.4 209.2,225.0 210.8,224.5 212.6,224.7 214.0,223.3 215.7,223.2 216.6,224.1 217.1,225.5 218.5,226.0"/>
<polyline points="153.3,258.2 154.8,258.4 156.4,257.5 157.9,259.0 159.4,258.2 160.7,259.3 162.4,258.9 163.6,260.1 165.4,259.6 166.7,260.6 168.2,259.6 169.8,260.7 171.3,259.9 172.8,260.6 174.3,259.9 176.0,260.4 177.4,259.6 179.0,259.4 180.5,259.7 182.0,260.3 183.6,260.3 185.1,260.6 186.4,261.7 187.5,263.0 188.2,264.3 189.7,265.1 190.0,266.7 189.7,265.3 190.4,263.8 189.5,262.5 189.2,261.1 189.1,259.7 188.8,258.3 188.8,256.9 188.2,255.7 187.5,254.5 188.5,253.0 190.0,252.0 191.4,251.7 192.8,250.9 194.4,251.2 195.8,250.8 197.3,250.8 198.7,251.3 200.3,251.3 201.7,251.5 203.2,251.6 204.7,252.0 206.0,252.6 206.9,253.8 208.3,254.0 209.6,254.5 211.4,255.1 213.2,255.7 214.7,256.2 216.2,256.0"/></g>
</defs>
<rect width="997" height="817" fill="#fff"/>
<clipPath id="fc1"><rect x="29.1" y="25.4" width="298.8" height="364.2"/></clipPath>
<g clip-path="url(#fc1)"><g transform="translate(0,0)">
<use href="#mapbase"/>
<g clip-path="url(#kclip)">
<g filter="url(#s1)"><polygon points="103.9,106.1 106.3,108.0 111.2,109.8 113.6,112.2 118.5,115.3 123.4,115.9 129.6,115.3 133.5,114.0 135.0,110.0 139.6,105.3 148.2,98.0 155.5,90.6 162.8,84.5 165.3,82.0 166.5,77.1 172.6,72.9 181.2,71.6 191.0,71.6 198.3,74.7 204.5,79.0 206.3,78.4 208.1,84.5 209.8,88.2 214.7,87.5 219.6,90.0 223.3,93.0 228.2,95.5 233.0,96.7 235.5,94.3 236.7,89.4 240.4,84.5 237.9,79.6 237.9,77.7 241.6,80.2 244.1,80.8 249.0,79.6 255.1,80.2 260.0,80.8 261.2,83.3 260.0,84.5 258.8,91.8 260.0,96.7 260.6,99.2 259.4,101.6 260.0,106.5 258.8,113.9 258.1,121.2 257.5,126.1 260.0,131.0 261.8,133.4 260.6,138.3 261.2,143.2 261.2,148.1 262.6,156.1 264.3,160.0 267.5,163.5 273.6,170.8 278.5,176.9 283.4,181.2 284.7,184.3 283.4,186.7 288.3,191.6 295.7,196.5 303.0,200.2 306.7,201.4 307.9,203.9 306.7,206.3 303.0,205.0 298.1,207.5 295.7,210.0 290.8,212.4 285.9,216.1 282.2,222.2 278.5,229.6 276.1,238.1 275.9,247.8 277.7,254.7 281.6,259.6 282.6,265.5 283.1,271.3 281.6,276.2 278.7,280.2 273.8,283.1 267.3,287.0 262.2,291.0 260.2,295.0 256.2,300.0 254.2,305.0 253.2,310.0 254.2,314.1 252.2,318.1 249.2,321.1 244.2,322.1 240.2,320.1 236.2,318.1 234.2,317.1 237.2,315.1 240.2,313.1 242.2,311.1 239.2,309.1 237.2,307.1 236.2,303.1 235.2,300.1 234.2,295.0 233.6,290.0 233.6,285.0 233.4,283.9 230.3,280.7 226.3,279.1 227.1,276.0 230.3,271.2 231.8,267.2 231.8,262.4 234.2,258.4 237.4,252.9 239.8,248.9 241.8,244.1 242.2,240.1 239.8,237.7 234.2,235.4 230.3,233.0 226.3,235.4 223.9,239.3 220.7,242.5 218.3,247.3 219.1,252.1 215.9,256.8 212.7,262.4 213.5,267.2 213.5,272.8 214.3,279.1 217.5,283.9 222.3,287.1 223.1,290.0 220.6,295.0 221.1,298.5 218.5,301.5 216.9,302.2 214.5,301.0 210.8,296.1 208.3,291.2 203.4,288.8 198.5,287.5 191.2,288.8 185.1,290.0 179.0,292.4 172.8,296.1 169.2,299.8 167.9,305.9 170.4,310.8 174.1,314.5 171.6,314.5 166.7,315.7 161.8,316.9 156.9,313.2 153.3,308.3 154.5,303.4 152.0,298.5 149.6,292.4 147.1,291.2 143.5,293.0 138.1,297.7 133.2,300.2 125.9,302.6 123.4,304.5 118.5,302.6 114.9,300.2 111.2,299.0 110.0,301.4 108.8,306.3 110.0,311.2 111.2,316.1 112.4,321.0 115.5,325.9 113.6,329.6 111.2,330.8 106.3,329.6 102.6,327.1 99.0,322.2 95.3,318.5 89.2,321.0 85.5,317.3 83.0,308.8 81.8,305.1 81.2,300.2 80.0,296.5 78.2,292.8 74.5,286.7 70.8,283.0 67.1,278.1 69.6,272.0 65.9,269.6 65.9,263.4 67.1,259.8 72.0,258.5 73.3,251.2 75.7,245.7 81.8,245.7 83.0,247.5 85.5,250.0 89.2,250.0 89.2,247.5 94.1,246.3 99.0,245.7 100.2,247.5 103.9,248.8 106.3,246.3 110.0,242.6 110.0,241.4 106.3,235.3 103.9,234.7 97.7,231.6 95.3,225.5 91.6,220.6 87.9,218.2 91.6,214.5 89.2,211.4 86.1,205.9 89.2,202.2 86.7,196.7 84.3,190.6 74.5,190.6 69.6,194.9 65.9,193.6 61.6,190.6 59.8,183.2 59.8,175.9 61.6,170.4 64.7,166.7 64.1,163.6 65.9,161.2 72.0,156.3 79.4,151.4 81.2,149.0 85.5,149.0 87.9,145.3 87.3,141.6 89.2,139.2 93.5,135.5 94.1,130.0 97.1,128.2 95.9,124.5 94.7,119.0 96.5,117.7 101.4,113.5 103.2,109.2" fill="#fff" fill-opacity="0.025"/>
<ellipse cx="133" cy="184" rx="24" ry="12" transform="rotate(-15,133,184)" fill="#fff" fill-opacity="0.625"/>
<ellipse cx="130" cy="183" rx="14" ry="8" transform="rotate(-15,130,183)" fill="#fff" fill-opacity="0.75"/>
<ellipse cx="105" cy="160" rx="14" ry="8" transform="rotate(-20,105,160)" fill="#fff" fill-opacity="0.15"/>
<ellipse cx="152" cy="191" rx="18" ry="8" transform="rotate(-10,152,191)" fill="#fff" fill-opacity="0.5"/>
<ellipse cx="170" cy="95" rx="30" ry="18" transform="rotate(0,170,95)" fill="#fff" fill-opacity="0.0625"/>
<ellipse cx="190" cy="116" rx="4" ry="24" transform="rotate(5,190,116)" fill="#fff" fill-opacity="0.5625"/>
<ellipse cx="193" cy="145" rx="12" ry="12" transform="rotate(0,193,145)" fill="#fff" fill-opacity="0.4375"/>
<ellipse cx="190" cy="166" rx="24" ry="12" transform="rotate(-10,190,166)" fill="#fff" fill-opacity="0.375"/>
<ellipse cx="191" cy="140" rx="9" ry="14" transform="rotate(0,191,140)" fill="#fff" fill-opacity="0.4375"/>
<ellipse cx="232" cy="105" rx="20" ry="22" transform="rotate(0,232,105)" fill="#fff" fill-opacity="0.075"/>
<ellipse cx="228" cy="168" rx="28" ry="34" transform="rotate(0,228,168)" fill="#fff" fill-opacity="0.4375"/>
<ellipse cx="248" cy="138" rx="8" ry="10" transform="rotate(0,248,138)" fill="#fff" fill-opacity="0.3125"/>
<ellipse cx="152" cy="208" rx="20" ry="13" transform="rotate(0,152,208)" fill="#fff" fill-opacity="0.375"/>
<ellipse cx="190" cy="208" rx="25" ry="14" transform="rotate(-10,190,208)" fill="#fff" fill-opacity="0.6875"/>
<ellipse cx="205" cy="222" rx="18" ry="12" transform="rotate(0,205,222)" fill="#fff" fill-opacity="1"/>
<ellipse cx="232" cy="219" rx="24" ry="18" transform="rotate(0,232,219)" fill="#fff" fill-opacity="0.625"/>
<ellipse cx="262" cy="215" rx="18" ry="12" transform="rotate(0,262,215)" fill="#fff" fill-opacity="0.1875"/>
<ellipse cx="252" cy="260" rx="24" ry="22" transform="rotate(0,252,260)" fill="#fff" fill-opacity="0.125"/>
<ellipse cx="236" cy="262" rx="7" ry="20" transform="rotate(0,236,262)" fill="#fff" fill-opacity="0.1875"/>
<ellipse cx="246" cy="300" rx="12" ry="18" transform="rotate(0,246,300)" fill="#fff" fill-opacity="0.08750000000000001"/>
<ellipse cx="148" cy="245" rx="16" ry="9" transform="rotate(10,148,245)" fill="#fff" fill-opacity="0.25"/>
<ellipse cx="176" cy="248" rx="12" ry="10" transform="rotate(0,176,248)" fill="#fff" fill-opacity="0.875"/>
<ellipse cx="200" cy="240" rx="38" ry="28" transform="rotate(0,200,240)" fill="#fff" fill-opacity="0.5625"/>
<ellipse cx="192" cy="275" rx="22" ry="20" transform="rotate(0,192,275)" fill="#fff" fill-opacity="1"/>
<ellipse cx="158" cy="285" rx="10" ry="26" transform="rotate(0,158,285)" fill="#fff" fill-opacity="0.4375"/>
<ellipse cx="105" cy="271" rx="13" ry="9" transform="rotate(-20,105,271)" fill="#fff" fill-opacity="0.75"/></g>
<g filter="url(#s2)"><polygon points="188.0,250.0 211.0,252.0 214.0,262.0 212.0,280.0 215.0,288.0 205.0,290.0 190.0,290.0 183.0,282.0 185.0,265.0" fill="#fff" fill-opacity="0.9"/>
<ellipse cx="181" cy="277" rx="8" ry="13" transform="rotate(0,181,277)" fill="#fff" fill-opacity="0.5"/>
<ellipse cx="171" cy="248" rx="15" ry="9" transform="rotate(0,171,248)" fill="#fff" fill-opacity="0.7"/>
<ellipse cx="198" cy="218" rx="21" ry="12" transform="rotate(-10,198,218)" fill="#fff" fill-opacity="0.6"/>
<ellipse cx="228" cy="223" rx="8" ry="13" transform="rotate(0,228,223)" fill="#fff" fill-opacity="0.4"/>
<ellipse cx="204" cy="240" rx="18" ry="14" transform="rotate(0,204,240)" fill="#fff" fill-opacity="0.95"/>
<ellipse cx="166" cy="292" rx="7" ry="6" transform="rotate(0,166,292)" fill="#fff" fill-opacity="0.3"/></g>
<g filter="url(#s3)"><g clip-path="url(#tclip)"><polygon points="186.3,231.8 189.0,234.0 193.6,233.0 201.0,228.1 205.9,225.7 210.8,224.5 215.7,223.2 218.5,226.0 220.6,228.1 222.0,232.0 223.5,236.5 221.1,239.4 218.2,242.3 216.2,246.2 217.2,251.1 216.2,256.0 213.2,255.7 209.6,254.5 204.7,252.0 197.3,250.8 190.0,252.0 187.5,254.5 186.0,250.0 185.0,242.0 185.0,236.0" fill="#fff" fill-opacity="0.95"/></g></g>
<ellipse cx="247" cy="178" rx="9" ry="3.2" transform="rotate(-28,247,178)" fill="#fff6f2" opacity="0.75"/>
</g>
<use href="#gridl"/>
<use href="#bnd"/>
</g></g>
<g fill="#3cc0ee" font-size="5.6px"><text x="27.1" y="380.1" text-anchor="end">137°30'</text>
<text x="32.4" y="398.4" text-anchor="middle">137°30'</text>
<text x="27.1" y="211.3" text-anchor="end">138°</text>
<text x="83.5" y="398.4" text-anchor="middle">138°</text>
<text x="27.1" y="50.9" text-anchor="end">138°30'</text>
<text x="132.7" y="398.4" text-anchor="middle">138°30'</text>
<text x="67.5" y="21.3" text-anchor="middle">139°</text>
<text x="182.3" y="398.4" text-anchor="middle">139°</text>
<text x="115.7" y="21.3" text-anchor="middle">139°30'</text>
<text x="233.0" y="398.4" text-anchor="middle">139°30'</text>
<text x="163.8" y="21.3" text-anchor="middle">140°</text>
<text x="282.7" y="398.4" text-anchor="middle">140°</text>
<text x="211.6" y="21.3" text-anchor="middle">140°30'</text>
<text x="331.9" y="377.7" text-anchor="start">140°30'</text>
<text x="259.8" y="21.3" text-anchor="middle">141°</text>
<text x="331.9" y="229.1" text-anchor="start">141°</text>
<text x="308.7" y="21.3" text-anchor="middle">141°30'</text>
<text x="331.9" y="84.3" text-anchor="start">141°30'</text>
<text x="0" y="0" text-anchor="middle" transform="translate(23.9,76.5) rotate(-90)">37°30'</text>
<text x="0" y="0" text-anchor="middle" transform="translate(196.2,13.4) rotate(-90)">37°30'</text>
<text x="0" y="0" text-anchor="middle" transform="translate(23.9,136.3) rotate(-90)">37°</text>
<text x="0" y="0" text-anchor="middle" transform="translate(335.2,40.0) rotate(-90)">37°</text>
<text x="0" y="0" text-anchor="middle" transform="translate(23.9,196.7) rotate(-90)">36°30'</text>
<text x="0" y="0" text-anchor="middle" transform="translate(335.2,99.4) rotate(-90)">36°30'</text>
<text x="0" y="0" text-anchor="middle" transform="translate(23.9,256.1) rotate(-90)">36°</text>
<text x="0" y="0" text-anchor="middle" transform="translate(335.2,160.0) rotate(-90)">36°</text>
<text x="0" y="0" text-anchor="middle" transform="translate(23.9,315.8) rotate(-90)">35°30'</text>
<text x="0" y="0" text-anchor="middle" transform="translate(335.2,221.3) rotate(-90)">35°30'</text>
<text x="0" y="0" text-anchor="middle" transform="translate(23.9,376.6) rotate(-90)">35°</text>
<text x="0" y="0" text-anchor="middle" transform="translate(335.2,282.5) rotate(-90)">35°</text>
<text x="0" y="0" text-anchor="middle" transform="translate(196.0,402.6) rotate(-90)">34°30'</text>
<text x="0" y="0" text-anchor="middle" transform="translate(335.2,342.4) rotate(-90)">34°30'</text></g>
<rect x="29.1" y="25.4" width="298.8" height="364.2" class="frame"/><clipPath id="fc2"><rect x="347.2" y="23.3" width="301.8" height="366.2"/></clipPath>
<g clip-path="url(#fc2)"><g transform="translate(319.5,-1.0)">
<use href="#mapbase"/>
<g clip-path="url(#kclip)">
<g filter="url(#s1)"><polygon points="103.9,106.1 106.3,108.0 111.2,109.8 113.6,112.2 118.5,115.3 123.4,115.9 129.6,115.3 133.5,114.0 135.0,110.0 139.6,105.3 148.2,98.0 155.5,90.6 162.8,84.5 165.3,82.0 166.5,77.1 172.6,72.9 181.2,71.6 191.0,71.6 198.3,74.7 204.5,79.0 206.3,78.4 208.1,84.5 209.8,88.2 214.7,87.5 219.6,90.0 223.3,93.0 228.2,95.5 233.0,96.7 235.5,94.3 236.7,89.4 240.4,84.5 237.9,79.6 237.9,77.7 241.6,80.2 244.1,80.8 249.0,79.6 255.1,80.2 260.0,80.8 261.2,83.3 260.0,84.5 258.8,91.8 260.0,96.7 260.6,99.2 259.4,101.6 260.0,106.5 258.8,113.9 258.1,121.2 257.5,126.1 260.0,131.0 261.8,133.4 260.6,138.3 261.2,143.2 261.2,148.1 262.6,156.1 264.3,160.0 267.5,163.5 273.6,170.8 278.5,176.9 283.4,181.2 284.7,184.3 283.4,186.7 288.3,191.6 295.7,196.5 303.0,200.2 306.7,201.4 307.9,203.9 306.7,206.3 303.0,205.0 298.1,207.5 295.7,210.0 290.8,212.4 285.9,216.1 282.2,222.2 278.5,229.6 276.1,238.1 275.9,247.8 277.7,254.7 281.6,259.6 282.6,265.5 283.1,271.3 281.6,276.2 278.7,280.2 273.8,283.1 267.3,287.0 262.2,291.0 260.2,295.0 256.2,300.0 254.2,305.0 253.2,310.0 254.2,314.1 252.2,318.1 249.2,321.1 244.2,322.1 240.2,320.1 236.2,318.1 234.2,317.1 237.2,315.1 240.2,313.1 242.2,311.1 239.2,309.1 237.2,307.1 236.2,303.1 235.2,300.1 234.2,295.0 233.6,290.0 233.6,285.0 233.4,283.9 230.3,280.7 226.3,279.1 227.1,276.0 230.3,271.2 231.8,267.2 231.8,262.4 234.2,258.4 237.4,252.9 239.8,248.9 241.8,244.1 242.2,240.1 239.8,237.7 234.2,235.4 230.3,233.0 226.3,235.4 223.9,239.3 220.7,242.5 218.3,247.3 219.1,252.1 215.9,256.8 212.7,262.4 213.5,267.2 213.5,272.8 214.3,279.1 217.5,283.9 222.3,287.1 223.1,290.0 220.6,295.0 221.1,298.5 218.5,301.5 216.9,302.2 214.5,301.0 210.8,296.1 208.3,291.2 203.4,288.8 198.5,287.5 191.2,288.8 185.1,290.0 179.0,292.4 172.8,296.1 169.2,299.8 167.9,305.9 170.4,310.8 174.1,314.5 171.6,314.5 166.7,315.7 161.8,316.9 156.9,313.2 153.3,308.3 154.5,303.4 152.0,298.5 149.6,292.4 147.1,291.2 143.5,293.0 138.1,297.7 133.2,300.2 125.9,302.6 123.4,304.5 118.5,302.6 114.9,300.2 111.2,299.0 110.0,301.4 108.8,306.3 110.0,311.2 111.2,316.1 112.4,321.0 115.5,325.9 113.6,329.6 111.2,330.8 106.3,329.6 102.6,327.1 99.0,322.2 95.3,318.5 89.2,321.0 85.5,317.3 83.0,308.8 81.8,305.1 81.2,300.2 80.0,296.5 78.2,292.8 74.5,286.7 70.8,283.0 67.1,278.1 69.6,272.0 65.9,269.6 65.9,263.4 67.1,259.8 72.0,258.5 73.3,251.2 75.7,245.7 81.8,245.7 83.0,247.5 85.5,250.0 89.2,250.0 89.2,247.5 94.1,246.3 99.0,245.7 100.2,247.5 103.9,248.8 106.3,246.3 110.0,242.6 110.0,241.4 106.3,235.3 103.9,234.7 97.7,231.6 95.3,225.5 91.6,220.6 87.9,218.2 91.6,214.5 89.2,211.4 86.1,205.9 89.2,202.2 86.7,196.7 84.3,190.6 74.5,190.6 69.6,194.9 65.9,193.6 61.6,190.6 59.8,183.2 59.8,175.9 61.6,170.4 64.7,166.7 64.1,163.6 65.9,161.2 72.0,156.3 79.4,151.4 81.2,149.0 85.5,149.0 87.9,145.3 87.3,141.6 89.2,139.2 93.5,135.5 94.1,130.0 97.1,128.2 95.9,124.5 94.7,119.0 96.5,117.7 101.4,113.5 103.2,109.2" fill="#fff" fill-opacity="0.025"/>
<ellipse cx="133" cy="184" rx="24" ry="12" transform="rotate(-15,133,184)" fill="#fff" fill-opacity="0.725"/>
<ellipse cx="130" cy="183" rx="14" ry="8" transform="rotate(-15,130,183)" fill="#fff" fill-opacity="0.87"/>
<ellipse cx="105" cy="160" rx="14" ry="8" transform="rotate(-20,105,160)" fill="#fff" fill-opacity="0.174"/>
<ellipse cx="152" cy="191" rx="18" ry="8" transform="rotate(-10,152,191)" fill="#fff" fill-opacity="0.58"/>
<ellipse cx="170" cy="95" rx="30" ry="18" transform="rotate(0,170,95)" fill="#fff" fill-opacity="0.0725"/>
<ellipse cx="190" cy="116" rx="4" ry="24" transform="rotate(5,190,116)" fill="#fff" fill-opacity="0.6525"/>
<ellipse cx="193" cy="145" rx="12" ry="12" transform="rotate(0,193,145)" fill="#fff" fill-opacity="0.5075"/>
<ellipse cx="190" cy="166" rx="24" ry="12" transform="rotate(-10,190,166)" fill="#fff" fill-opacity="0.435"/>
<ellipse cx="191" cy="140" rx="9" ry="14" transform="rotate(0,191,140)" fill="#fff" fill-opacity="0.5075"/>
<ellipse cx="232" cy="105" rx="20" ry="22" transform="rotate(0,232,105)" fill="#fff" fill-opacity="0.087"/>
<ellipse cx="228" cy="168" rx="28" ry="34" transform="rotate(0,228,168)" fill="#fff" fill-opacity="0.5075"/>
<ellipse cx="248" cy="138" rx="8" ry="10" transform="rotate(0,248,138)" fill="#fff" fill-opacity="0.3625"/>
<ellipse cx="152" cy="208" rx="20" ry="13" transform="rotate(0,152,208)" fill="#fff" fill-opacity="0.435"/>
<ellipse cx="190" cy="208" rx="25" ry="14" transform="rotate(-10,190,208)" fill="#fff" fill-opacity="0.7975"/>
<ellipse cx="205" cy="222" rx="18" ry="12" transform="rotate(0,205,222)" fill="#fff" fill-opacity="1"/>
<ellipse cx="232" cy="219" rx="24" ry="18" transform="rotate(0,232,219)" fill="#fff" fill-opacity="0.725"/>
<ellipse cx="262" cy="215" rx="18" ry="12" transform="rotate(0,262,215)" fill="#fff" fill-opacity="0.2175"/>
<ellipse cx="252" cy="260" rx="24" ry="22" transform="rotate(0,252,260)" fill="#fff" fill-opacity="0.145"/>
<ellipse cx="236" cy="262" rx="7" ry="20" transform="rotate(0,236,262)" fill="#fff" fill-opacity="0.2175"/>
<ellipse cx="246" cy="300" rx="12" ry="18" transform="rotate(0,246,300)" fill="#fff" fill-opacity="0.1015"/>
<ellipse cx="148" cy="245" rx="16" ry="9" transform="rotate(10,148,245)" fill="#fff" fill-opacity="0.29"/>
<ellipse cx="176" cy="248" rx="12" ry="10" transform="rotate(0,176,248)" fill="#fff" fill-opacity="1"/>
<ellipse cx="200" cy="240" rx="38" ry="28" transform="rotate(0,200,240)" fill="#fff" fill-opacity="0.6525"/>
<ellipse cx="192" cy="275" rx="22" ry="20" transform="rotate(0,192,275)" fill="#fff" fill-opacity="1"/>
<ellipse cx="158" cy="285" rx="10" ry="26" transform="rotate(0,158,285)" fill="#fff" fill-opacity="0.5075"/>
<ellipse cx="105" cy="271" rx="13" ry="9" transform="rotate(-20,105,271)" fill="#fff" fill-opacity="0.87"/></g>
<g filter="url(#s2)"><polygon points="186.0,250.0 211.0,252.0 214.0,262.0 212.0,280.0 216.0,290.0 205.0,291.0 188.0,291.0 179.0,284.0 181.0,265.0" fill="#fff" fill-opacity="0.95"/>
<ellipse cx="177" cy="279" rx="10" ry="14" transform="rotate(0,177,279)" fill="#fff" fill-opacity="0.55"/>
<ellipse cx="170" cy="248" rx="18" ry="10" transform="rotate(0,170,248)" fill="#fff" fill-opacity="0.85"/>
<ellipse cx="196" cy="215" rx="27" ry="15" transform="rotate(-10,196,215)" fill="#fff" fill-opacity="0.78"/>
<ellipse cx="229" cy="224" rx="9" ry="14" transform="rotate(0,229,224)" fill="#fff" fill-opacity="0.5"/>
<ellipse cx="204" cy="240" rx="20" ry="15" transform="rotate(0,204,240)" fill="#fff" fill-opacity="1.0"/>
<ellipse cx="165" cy="292" rx="9" ry="7" transform="rotate(0,165,292)" fill="#fff" fill-opacity="0.4"/>
<ellipse cx="222" cy="210" rx="10" ry="6" transform="rotate(0,222,210)" fill="#fff" fill-opacity="0.35"/>
<ellipse cx="178" cy="211" rx="28" ry="11" transform="rotate(-10,178,211)" fill="#fff" fill-opacity="0.4"/></g>
<g filter="url(#s3)"><g clip-path="url(#tclip)"><polygon points="186.3,231.8 189.0,234.0 193.6,233.0 201.0,228.1 205.9,225.7 210.8,224.5 215.7,223.2 218.5,226.0 220.6,228.1 222.0,232.0 223.5,236.5 221.1,239.4 218.2,242.3 216.2,246.2 217.2,251.1 216.2,256.0 213.2,255.7 209.6,254.5 204.7,252.0 197.3,250.8 190.0,252.0 187.5,254.5 186.0,250.0 185.0,242.0 185.0,236.0" fill="#fff" fill-opacity="1.0"/></g>
<ellipse cx="176" cy="248" rx="14" ry="9" transform="rotate(0,176,248)" fill="#fff" fill-opacity="0.55"/>
<ellipse cx="205" cy="226" rx="10" ry="5" transform="rotate(0,205,226)" fill="#fff" fill-opacity="0.3"/></g>
<g filter="url(#s4)"><ellipse cx="209" cy="235" rx="8" ry="7" transform="rotate(0,209,235)" fill="#fff" fill-opacity="0.3"/></g>
<ellipse cx="247" cy="178" rx="9" ry="3.2" transform="rotate(-28,247,178)" fill="#fff6f2" opacity="0.75"/>
</g>
<use href="#gridl"/>
<use href="#bnd"/>
</g></g>
<g fill="#3cc0ee" font-size="5.6px"><text x="345.2" y="374.5" text-anchor="end">137°30'</text>
<text x="352.2" y="398.3" text-anchor="middle">137°30'</text>
<text x="345.2" y="205.7" text-anchor="end">138°</text>
<text x="403.3" y="398.3" text-anchor="middle">138°</text>
<text x="345.2" y="45.3" text-anchor="end">138°30'</text>
<text x="452.5" y="398.3" text-anchor="middle">138°30'</text>
<text x="386.7" y="19.2" text-anchor="middle">139°</text>
<text x="502.1" y="398.3" text-anchor="middle">139°</text>
<text x="434.9" y="19.2" text-anchor="middle">139°30'</text>
<text x="552.8" y="398.3" text-anchor="middle">139°30'</text>
<text x="482.9" y="19.2" text-anchor="middle">140°</text>
<text x="602.5" y="398.3" text-anchor="middle">140°</text>
<text x="530.7" y="19.2" text-anchor="middle">140°30'</text>
<text x="653.0" y="381.5" text-anchor="start">140°30'</text>
<text x="578.9" y="19.2" text-anchor="middle">141°</text>
<text x="653.0" y="232.8" text-anchor="start">141°</text>
<text x="627.8" y="19.2" text-anchor="middle">141°30'</text>
<text x="653.0" y="87.9" text-anchor="start">141°30'</text>
<text x="0" y="0" text-anchor="middle" transform="translate(342.0,75.9) rotate(-90)">37°30'</text>
<text x="0" y="0" text-anchor="middle" transform="translate(519.2,11.3) rotate(-90)">37°30'</text>
<text x="0" y="0" text-anchor="middle" transform="translate(342.0,135.7) rotate(-90)">37°</text>
<text x="0" y="0" text-anchor="middle" transform="translate(656.3,38.5) rotate(-90)">37°</text>
<text x="0" y="0" text-anchor="middle" transform="translate(342.0,196.1) rotate(-90)">36°30'</text>
<text x="0" y="0" text-anchor="middle" transform="translate(656.3,97.9) rotate(-90)">36°30'</text>
<text x="0" y="0" text-anchor="middle" transform="translate(342.0,255.5) rotate(-90)">36°</text>
<text x="0" y="0" text-anchor="middle" transform="translate(656.3,158.5) rotate(-90)">36°</text>
<text x="0" y="0" text-anchor="middle" transform="translate(342.0,315.2) rotate(-90)">35°30'</text>
<text x="0" y="0" text-anchor="middle" transform="translate(656.3,219.8) rotate(-90)">35°30'</text>
<text x="0" y="0" text-anchor="middle" transform="translate(342.0,376.0) rotate(-90)">35°</text>
<text x="0" y="0" text-anchor="middle" transform="translate(656.3,281.0) rotate(-90)">35°</text>
<text x="0" y="0" text-anchor="middle" transform="translate(512.6,402.5) rotate(-90)">34°30'</text>
<text x="0" y="0" text-anchor="middle" transform="translate(656.3,340.9) rotate(-90)">34°30'</text></g>
<rect x="347.2" y="23.3" width="301.8" height="366.2" class="frame"/><clipPath id="fc3"><rect x="668.5" y="23.3" width="300.3" height="366.1"/></clipPath>
<g clip-path="url(#fc3)"><g transform="translate(639.9,-0.4)">
<use href="#mapbase"/>
<g clip-path="url(#kclip)">
<g filter="url(#s1)"><polygon points="103.9,106.1 106.3,108.0 111.2,109.8 113.6,112.2 118.5,115.3 123.4,115.9 129.6,115.3 133.5,114.0 135.0,110.0 139.6,105.3 148.2,98.0 155.5,90.6 162.8,84.5 165.3,82.0 166.5,77.1 172.6,72.9 181.2,71.6 191.0,71.6 198.3,74.7 204.5,79.0 206.3,78.4 208.1,84.5 209.8,88.2 214.7,87.5 219.6,90.0 223.3,93.0 228.2,95.5 233.0,96.7 235.5,94.3 236.7,89.4 240.4,84.5 237.9,79.6 237.9,77.7 241.6,80.2 244.1,80.8 249.0,79.6 255.1,80.2 260.0,80.8 261.2,83.3 260.0,84.5 258.8,91.8 260.0,96.7 260.6,99.2 259.4,101.6 260.0,106.5 258.8,113.9 258.1,121.2 257.5,126.1 260.0,131.0 261.8,133.4 260.6,138.3 261.2,143.2 261.2,148.1 262.6,156.1 264.3,160.0 267.5,163.5 273.6,170.8 278.5,176.9 283.4,181.2 284.7,184.3 283.4,186.7 288.3,191.6 295.7,196.5 303.0,200.2 306.7,201.4 307.9,203.9 306.7,206.3 303.0,205.0 298.1,207.5 295.7,210.0 290.8,212.4 285.9,216.1 282.2,222.2 278.5,229.6 276.1,238.1 275.9,247.8 277.7,254.7 281.6,259.6 282.6,265.5 283.1,271.3 281.6,276.2 278.7,280.2 273.8,283.1 267.3,287.0 262.2,291.0 260.2,295.0 256.2,300.0 254.2,305.0 253.2,310.0 254.2,314.1 252.2,318.1 249.2,321.1 244.2,322.1 240.2,320.1 236.2,318.1 234.2,317.1 237.2,315.1 240.2,313.1 242.2,311.1 239.2,309.1 237.2,307.1 236.2,303.1 235.2,300.1 234.2,295.0 233.6,290.0 233.6,285.0 233.4,283.9 230.3,280.7 226.3,279.1 227.1,276.0 230.3,271.2 231.8,267.2 231.8,262.4 234.2,258.4 237.4,252.9 239.8,248.9 241.8,244.1 242.2,240.1 239.8,237.7 234.2,235.4 230.3,233.0 226.3,235.4 223.9,239.3 220.7,242.5 218.3,247.3 219.1,252.1 215.9,256.8 212.7,262.4 213.5,267.2 213.5,272.8 214.3,279.1 217.5,283.9 222.3,287.1 223.1,290.0 220.6,295.0 221.1,298.5 218.5,301.5 216.9,302.2 214.5,301.0 210.8,296.1 208.3,291.2 203.4,288.8 198.5,287.5 191.2,288.8 185.1,290.0 179.0,292.4 172.8,296.1 169.2,299.8 167.9,305.9 170.4,310.8 174.1,314.5 171.6,314.5 166.7,315.7 161.8,316.9 156.9,313.2 153.3,308.3 154.5,303.4 152.0,298.5 149.6,292.4 147.1,291.2 143.5,293.0 138.1,297.7 133.2,300.2 125.9,302.6 123.4,304.5 118.5,302.6 114.9,300.2 111.2,299.0 110.0,301.4 108.8,306.3 110.0,311.2 111.2,316.1 112.4,321.0 115.5,325.9 113.6,329.6 111.2,330.8 106.3,329.6 102.6,327.1 99.0,322.2 95.3,318.5 89.2,321.0 85.5,317.3 83.0,308.8 81.8,305.1 81.2,300.2 80.0,296.5 78.2,292.8 74.5,286.7 70.8,283.0 67.1,278.1 69.6,272.0 65.9,269.6 65.9,263.4 67.1,259.8 72.0,258.5 73.3,251.2 75.7,245.7 81.8,245.7 83.0,247.5 85.5,250.0 89.2,250.0 89.2,247.5 94.1,246.3 99.0,245.7 100.2,247.5 103.9,248.8 106.3,246.3 110.0,242.6 110.0,241.4 106.3,235.3 103.9,234.7 97.7,231.6 95.3,225.5 91.6,220.6 87.9,218.2 91.6,214.5 89.2,211.4 86.1,205.9 89.2,202.2 86.7,196.7 84.3,190.6 74.5,190.6 69.6,194.9 65.9,193.6 61.6,190.6 59.8,183.2 59.8,175.9 61.6,170.4 64.7,166.7 64.1,163.6 65.9,161.2 72.0,156.3 79.4,151.4 81.2,149.0 85.5,149.0 87.9,145.3 87.3,141.6 89.2,139.2 93.5,135.5 94.1,130.0 97.1,128.2 95.9,124.5 94.7,119.0 96.5,117.7 101.4,113.5 103.2,109.2" fill="#fff" fill-opacity="0.025"/>
<ellipse cx="133" cy="184" rx="24" ry="12" transform="rotate(-15,133,184)" fill="#fff" fill-opacity="0.725"/>
<ellipse cx="130" cy="183" rx="14" ry="8" transform="rotate(-15,130,183)" fill="#fff" fill-opacity="0.87"/>
<ellipse cx="105" cy="160" rx="14" ry="8" transform="rotate(-20,105,160)" fill="#fff" fill-opacity="0.174"/>
<ellipse cx="152" cy="191" rx="18" ry="8" transform="rotate(-10,152,191)" fill="#fff" fill-opacity="0.58"/>
<ellipse cx="170" cy="95" rx="30" ry="18" transform="rotate(0,170,95)" fill="#fff" fill-opacity="0.0725"/>
<ellipse cx="190" cy="116" rx="4" ry="24" transform="rotate(5,190,116)" fill="#fff" fill-opacity="0.6525"/>
<ellipse cx="193" cy="145" rx="12" ry="12" transform="rotate(0,193,145)" fill="#fff" fill-opacity="0.5075"/>
<ellipse cx="190" cy="166" rx="24" ry="12" transform="rotate(-10,190,166)" fill="#fff" fill-opacity="0.435"/>
<ellipse cx="191" cy="140" rx="9" ry="14" transform="rotate(0,191,140)" fill="#fff" fill-opacity="0.5075"/>
<ellipse cx="232" cy="105" rx="20" ry="22" transform="rotate(0,232,105)" fill="#fff" fill-opacity="0.087"/>
<ellipse cx="228" cy="168" rx="28" ry="34" transform="rotate(0,228,168)" fill="#fff" fill-opacity="0.5075"/>
<ellipse cx="248" cy="138" rx="8" ry="10" transform="rotate(0,248,138)" fill="#fff" fill-opacity="0.3625"/>
<ellipse cx="152" cy="208" rx="20" ry="13" transform="rotate(0,152,208)" fill="#fff" fill-opacity="0.435"/>
<ellipse cx="190" cy="208" rx="25" ry="14" transform="rotate(-10,190,208)" fill="#fff" fill-opacity="0.7975"/>
<ellipse cx="205" cy="222" rx="18" ry="12" transform="rotate(0,205,222)" fill="#fff" fill-opacity="1"/>
<ellipse cx="232" cy="219" rx="24" ry="18" transform="rotate(0,232,219)" fill="#fff" fill-opacity="0.725"/>
<ellipse cx="262" cy="215" rx="18" ry="12" transform="rotate(0,262,215)" fill="#fff" fill-opacity="0.2175"/>
<ellipse cx="252" cy="260" rx="24" ry="22" transform="rotate(0,252,260)" fill="#fff" fill-opacity="0.145"/>
<ellipse cx="236" cy="262" rx="7" ry="20" transform="rotate(0,236,262)" fill="#fff" fill-opacity="0.2175"/>
<ellipse cx="246" cy="300" rx="12" ry="18" transform="rotate(0,246,300)" fill="#fff" fill-opacity="0.1015"/>
<ellipse cx="148" cy="245" rx="16" ry="9" transform="rotate(10,148,245)" fill="#fff" fill-opacity="0.29"/>
<ellipse cx="176" cy="248" rx="12" ry="10" transform="rotate(0,176,248)" fill="#fff" fill-opacity="1"/>
<ellipse cx="200" cy="240" rx="38" ry="28" transform="rotate(0,200,240)" fill="#fff" fill-opacity="0.6525"/>
<ellipse cx="192" cy="275" rx="22" ry="20" transform="rotate(0,192,275)" fill="#fff" fill-opacity="1"/>
<ellipse cx="158" cy="285" rx="10" ry="26" transform="rotate(0,158,285)" fill="#fff" fill-opacity="0.5075"/>
<ellipse cx="105" cy="271" rx="13" ry="9" transform="rotate(-20,105,271)" fill="#fff" fill-opacity="0.87"/></g>
<g filter="url(#s2)"><polygon points="186.0,250.0 211.0,252.0 214.0,262.0 212.0,280.0 216.0,290.0 205.0,291.0 188.0,291.0 179.0,284.0 181.0,265.0" fill="#fff" fill-opacity="0.95"/>
<ellipse cx="177" cy="279" rx="10" ry="14" transform="rotate(0,177,279)" fill="#fff" fill-opacity="0.55"/>
<ellipse cx="170" cy="248" rx="18" ry="10" transform="rotate(0,170,248)" fill="#fff" fill-opacity="0.85"/>
<ellipse cx="196" cy="215" rx="27" ry="15" transform="rotate(-10,196,215)" fill="#fff" fill-opacity="0.78"/>
<ellipse cx="229" cy="224" rx="9" ry="14" transform="rotate(0,229,224)" fill="#fff" fill-opacity="0.5"/>
<ellipse cx="204" cy="240" rx="20" ry="15" transform="rotate(0,204,240)" fill="#fff" fill-opacity="1.0"/>
<ellipse cx="165" cy="292" rx="9" ry="7" transform="rotate(0,165,292)" fill="#fff" fill-opacity="0.4"/>
<ellipse cx="222" cy="210" rx="10" ry="6" transform="rotate(0,222,210)" fill="#fff" fill-opacity="0.35"/>
<ellipse cx="178" cy="211" rx="28" ry="11" transform="rotate(-10,178,211)" fill="#fff" fill-opacity="0.4"/></g>
<g filter="url(#s3)"><g clip-path="url(#tclip)"><polygon points="186.3,231.8 189.0,234.0 193.6,233.0 201.0,228.1 205.9,225.7 210.8,224.5 215.7,223.2 218.5,226.0 220.6,228.1 222.0,232.0 223.5,236.5 221.1,239.4 218.2,242.3 216.2,246.2 217.2,251.1 216.2,256.0 213.2,255.7 209.6,254.5 204.7,252.0 197.3,250.8 190.0,252.0 187.5,254.5 186.0,250.0 185.0,242.0 185.0,236.0" fill="#fff" fill-opacity="1.0"/></g>
<ellipse cx="176" cy="248" rx="14" ry="9" transform="rotate(0,176,248)" fill="#fff" fill-opacity="0.55"/>
<ellipse cx="205" cy="226" rx="10" ry="5" transform="rotate(0,205,226)" fill="#fff" fill-opacity="0.3"/></g>
<g filter="url(#s4)"><ellipse cx="209" cy="235" rx="8" ry="7" transform="rotate(0,209,235)" fill="#fff" fill-opacity="0.3"/></g>
<ellipse cx="247" cy="178" rx="9" ry="3.2" transform="rotate(-28,247,178)" fill="#fff6f2" opacity="0.75"/>
</g>
<use href="#gridl"/>
<use href="#bnd"/>
</g></g>
<g fill="#3cc0ee" font-size="5.6px"><text x="666.5" y="378.1" text-anchor="end">137°30'</text>
<text x="672.4" y="398.2" text-anchor="middle">137°30'</text>
<text x="666.5" y="209.3" text-anchor="end">138°</text>
<text x="723.5" y="398.2" text-anchor="middle">138°</text>
<text x="666.5" y="48.8" text-anchor="end">138°30'</text>
<text x="772.7" y="398.2" text-anchor="middle">138°30'</text>
<text x="706.9" y="19.2" text-anchor="middle">139°</text>
<text x="822.3" y="398.2" text-anchor="middle">139°</text>
<text x="755.1" y="19.2" text-anchor="middle">139°30'</text>
<text x="873.0" y="398.2" text-anchor="middle">139°30'</text>
<text x="803.2" y="19.2" text-anchor="middle">140°</text>
<text x="922.7" y="398.2" text-anchor="middle">140°</text>
<text x="850.9" y="19.2" text-anchor="middle">140°30'</text>
<text x="972.8" y="380.3" text-anchor="start">140°30'</text>
<text x="899.1" y="19.2" text-anchor="middle">141°</text>
<text x="972.8" y="231.7" text-anchor="start">141°</text>
<text x="948.0" y="19.2" text-anchor="middle">141°30'</text>
<text x="972.8" y="86.8" text-anchor="start">141°30'</text>
<text x="0" y="0" text-anchor="middle" transform="translate(663.3,76.3) rotate(-90)">37°30'</text>
<text x="0" y="0" text-anchor="middle" transform="translate(841.4,11.3) rotate(-90)">37°30'</text>
<text x="0" y="0" text-anchor="middle" transform="translate(663.3,136.1) rotate(-90)">37°</text>
<text x="0" y="0" text-anchor="middle" transform="translate(976.1,39.3) rotate(-90)">37°</text>
<text x="0" y="0" text-anchor="middle" transform="translate(663.3,196.5) rotate(-90)">36°30'</text>
<text x="0" y="0" text-anchor="middle" transform="translate(976.1,98.7) rotate(-90)">36°30'</text>
<text x="0" y="0" text-anchor="middle" transform="translate(663.3,255.9) rotate(-90)">36°</text>
<text x="0" y="0" text-anchor="middle" transform="translate(976.1,159.3) rotate(-90)">36°</text>
<text x="0" y="0" text-anchor="middle" transform="translate(663.3,315.6) rotate(-90)">35°30'</text>
<text x="0" y="0" text-anchor="middle" transform="translate(976.1,220.6) rotate(-90)">35°30'</text>
<text x="0" y="0" text-anchor="middle" transform="translate(663.3,376.4) rotate(-90)">35°</text>
<text x="0" y="0" text-anchor="middle" transform="translate(976.1,281.8) rotate(-90)">35°</text>
<text x="0" y="0" text-anchor="middle" transform="translate(835.3,402.4) rotate(-90)">34°30'</text>
<text x="0" y="0" text-anchor="middle" transform="translate(976.1,341.7) rotate(-90)">34°30'</text></g>
<rect x="668.5" y="23.3" width="300.3" height="366.1" class="frame"/><clipPath id="fc4"><rect x="28.4" y="424.0" width="298.3" height="365.2"/></clipPath>
<g clip-path="url(#fc4)"><g transform="translate(-0.8,399.2)">
<use href="#mapbase"/>
<g clip-path="url(#kclip)">
<g filter="url(#s1)"><polygon points="103.9,106.1 106.3,108.0 111.2,109.8 113.6,112.2 118.5,115.3 123.4,115.9 129.6,115.3 133.5,114.0 135.0,110.0 139.6,105.3 148.2,98.0 155.5,90.6 162.8,84.5 165.3,82.0 166.5,77.1 172.6,72.9 181.2,71.6 191.0,71.6 198.3,74.7 204.5,79.0 206.3,78.4 208.1,84.5 209.8,88.2 214.7,87.5 219.6,90.0 223.3,93.0 228.2,95.5 233.0,96.7 235.5,94.3 236.7,89.4 240.4,84.5 237.9,79.6 237.9,77.7 241.6,80.2 244.1,80.8 249.0,79.6 255.1,80.2 260.0,80.8 261.2,83.3 260.0,84.5 258.8,91.8 260.0,96.7 260.6,99.2 259.4,101.6 260.0,106.5 258.8,113.9 258.1,121.2 257.5,126.1 260.0,131.0 261.8,133.4 260.6,138.3 261.2,143.2 261.2,148.1 262.6,156.1 264.3,160.0 267.5,163.5 273.6,170.8 278.5,176.9 283.4,181.2 284.7,184.3 283.4,186.7 288.3,191.6 295.7,196.5 303.0,200.2 306.7,201.4 307.9,203.9 306.7,206.3 303.0,205.0 298.1,207.5 295.7,210.0 290.8,212.4 285.9,216.1 282.2,222.2 278.5,229.6 276.1,238.1 275.9,247.8 277.7,254.7 281.6,259.6 282.6,265.5 283.1,271.3 281.6,276.2 278.7,280.2 273.8,283.1 267.3,287.0 262.2,291.0 260.2,295.0 256.2,300.0 254.2,305.0 253.2,310.0 254.2,314.1 252.2,318.1 249.2,321.1 244.2,322.1 240.2,320.1 236.2,318.1 234.2,317.1 237.2,315.1 240.2,313.1 242.2,311.1 239.2,309.1 237.2,307.1 236.2,303.1 235.2,300.1 234.2,295.0 233.6,290.0 233.6,285.0 233.4,283.9 230.3,280.7 226.3,279.1 227.1,276.0 230.3,271.2 231.8,267.2 231.8,262.4 234.2,258.4 237.4,252.9 239.8,248.9 241.8,244.1 242.2,240.1 239.8,237.7 234.2,235.4 230.3,233.0 226.3,235.4 223.9,239.3 220.7,242.5 218.3,247.3 219.1,252.1 215.9,256.8 212.7,262.4 213.5,267.2 213.5,272.8 214.3,279.1 217.5,283.9 222.3,287.1 223.1,290.0 220.6,295.0 221.1,298.5 218.5,301.5 216.9,302.2 214.5,301.0 210.8,296.1 208.3,291.2 203.4,288.8 198.5,287.5 191.2,288.8 185.1,290.0 179.0,292.4 172.8,296.1 169.2,299.8 167.9,305.9 170.4,310.8 174.1,314.5 171.6,314.5 166.7,315.7 161.8,316.9 156.9,313.2 153.3,308.3 154.5,303.4 152.0,298.5 149.6,292.4 147.1,291.2 143.5,293.0 138.1,297.7 133.2,300.2 125.9,302.6 123.4,304.5 118.5,302.6 114.9,300.2 111.2,299.0 110.0,301.4 108.8,306.3 110.0,311.2 111.2,316.1 112.4,321.0 115.5,325.9 113.6,329.6 111.2,330.8 106.3,329.6 102.6,327.1 99.0,322.2 95.3,318.5 89.2,321.0 85.5,317.3 83.0,308.8 81.8,305.1 81.2,300.2 80.0,296.5 78.2,292.8 74.5,286.7 70.8,283.0 67.1,278.1 69.6,272.0 65.9,269.6 65.9,263.4 67.1,259.8 72.0,258.5 73.3,251.2 75.7,245.7 81.8,245.7 83.0,247.5 85.5,250.0 89.2,250.0 89.2,247.5 94.1,246.3 99.0,245.7 100.2,247.5 103.9,248.8 106.3,246.3 110.0,242.6 110.0,241.4 106.3,235.3 103.9,234.7 97.7,231.6 95.3,225.5 91.6,220.6 87.9,218.2 91.6,214.5 89.2,211.4 86.1,205.9 89.2,202.2 86.7,196.7 84.3,190.6 74.5,190.6 69.6,194.9 65.9,193.6 61.6,190.6 59.8,183.2 59.8,175.9 61.6,170.4 64.7,166.7 64.1,163.6 65.9,161.2 72.0,156.3 79.4,151.4 81.2,149.0 85.5,149.0 87.9,145.3 87.3,141.6 89.2,139.2 93.5,135.5 94.1,130.0 97.1,128.2 95.9,124.5 94.7,119.0 96.5,117.7 101.4,113.5 103.2,109.2" fill="#fff" fill-opacity="0.025"/>
<ellipse cx="133" cy="184" rx="24" ry="12" transform="rotate(-15,133,184)" fill="#fff" fill-opacity="0.75"/>
<ellipse cx="130" cy="183" rx="14" ry="8" transform="rotate(-15,130,183)" fill="#fff" fill-opacity="0.8999999999999999"/>
<ellipse cx="105" cy="160" rx="14" ry="8" transform="rotate(-20,105,160)" fill="#fff" fill-opacity="0.18"/>
<ellipse cx="152" cy="191" rx="18" ry="8" transform="rotate(-10,152,191)" fill="#fff" fill-opacity="0.6000000000000001"/>
<ellipse cx="170" cy="95" rx="30" ry="18" transform="rotate(0,170,95)" fill="#fff" fill-opacity="0.07500000000000001"/>
<ellipse cx="190" cy="116" rx="4" ry="24" transform="rotate(5,190,116)" fill="#fff" fill-opacity="0.675"/>
<ellipse cx="193" cy="145" rx="12" ry="12" transform="rotate(0,193,145)" fill="#fff" fill-opacity="0.5249999999999999"/>
<ellipse cx="190" cy="166" rx="24" ry="12" transform="rotate(-10,190,166)" fill="#fff" fill-opacity="0.44999999999999996"/>
<ellipse cx="191" cy="140" rx="9" ry="14" transform="rotate(0,191,140)" fill="#fff" fill-opacity="0.5249999999999999"/>
<ellipse cx="232" cy="105" rx="20" ry="22" transform="rotate(0,232,105)" fill="#fff" fill-opacity="0.09"/>
<ellipse cx="228" cy="168" rx="28" ry="34" transform="rotate(0,228,168)" fill="#fff" fill-opacity="0.5249999999999999"/>
<ellipse cx="248" cy="138" rx="8" ry="10" transform="rotate(0,248,138)" fill="#fff" fill-opacity="0.375"/>
<ellipse cx="152" cy="208" rx="20" ry="13" transform="rotate(0,152,208)" fill="#fff" fill-opacity="0.44999999999999996"/>
<ellipse cx="190" cy="208" rx="25" ry="14" transform="rotate(-10,190,208)" fill="#fff" fill-opacity="0.8250000000000001"/>
<ellipse cx="205" cy="222" rx="18" ry="12" transform="rotate(0,205,222)" fill="#fff" fill-opacity="1"/>
<ellipse cx="232" cy="219" rx="24" ry="18" transform="rotate(0,232,219)" fill="#fff" fill-opacity="0.75"/>
<ellipse cx="262" cy="215" rx="18" ry="12" transform="rotate(0,262,215)" fill="#fff" fill-opacity="0.22499999999999998"/>
<ellipse cx="252" cy="260" rx="24" ry="22" transform="rotate(0,252,260)" fill="#fff" fill-opacity="0.15000000000000002"/>
<ellipse cx="236" cy="262" rx="7" ry="20" transform="rotate(0,236,262)" fill="#fff" fill-opacity="0.22499999999999998"/>
<ellipse cx="246" cy="300" rx="12" ry="18" transform="rotate(0,246,300)" fill="#fff" fill-opacity="0.10500000000000001"/>
<ellipse cx="148" cy="245" rx="16" ry="9" transform="rotate(10,148,245)" fill="#fff" fill-opacity="0.30000000000000004"/>
<ellipse cx="176" cy="248" rx="12" ry="10" transform="rotate(0,176,248)" fill="#fff" fill-opacity="1"/>
<ellipse cx="200" cy="240" rx="38" ry="28" transform="rotate(0,200,240)" fill="#fff" fill-opacity="0.675"/>
<ellipse cx="192" cy="275" rx="22" ry="20" transform="rotate(0,192,275)" fill="#fff" fill-opacity="1"/>
<ellipse cx="158" cy="285" rx="10" ry="26" transform="rotate(0,158,285)" fill="#fff" fill-opacity="0.5249999999999999"/>
<ellipse cx="105" cy="271" rx="13" ry="9" transform="rotate(-20,105,271)" fill="#fff" fill-opacity="0.8999999999999999"/></g>
<g filter="url(#s2)"><polygon points="186.0,250.0 211.0,252.0 214.0,262.0 212.0,280.0 216.0,290.0 205.0,291.0 188.0,291.0 179.0,284.0 181.0,265.0" fill="#fff" fill-opacity="0.95"/>
<ellipse cx="177" cy="279" rx="10" ry="14" transform="rotate(0,177,279)" fill="#fff" fill-opacity="0.55"/>
<ellipse cx="170" cy="248" rx="18" ry="10" transform="rotate(0,170,248)" fill="#fff" fill-opacity="0.85"/>
<ellipse cx="196" cy="215" rx="27" ry="15" transform="rotate(-10,196,215)" fill="#fff" fill-opacity="0.78"/>
<ellipse cx="229" cy="224" rx="9" ry="14" transform="rotate(0,229,224)" fill="#fff" fill-opacity="0.5"/>
<ellipse cx="204" cy="240" rx="20" ry="15" transform="rotate(0,204,240)" fill="#fff" fill-opacity="1.0"/>
<ellipse cx="165" cy="292" rx="9" ry="7" transform="rotate(0,165,292)" fill="#fff" fill-opacity="0.4"/>
<ellipse cx="222" cy="210" rx="10" ry="6" transform="rotate(0,222,210)" fill="#fff" fill-opacity="0.35"/>
<ellipse cx="178" cy="211" rx="28" ry="11" transform="rotate(-10,178,211)" fill="#fff" fill-opacity="0.4"/></g>
<g filter="url(#s3)"><g clip-path="url(#tclip)"><polygon points="186.3,231.8 189.0,234.0 193.6,233.0 201.0,228.1 205.9,225.7 210.8,224.5 215.7,223.2 218.5,226.0 220.6,228.1 222.0,232.0 223.5,236.5 221.1,239.4 218.2,242.3 216.2,246.2 217.2,251.1 216.2,256.0 213.2,255.7 209.6,254.5 204.7,252.0 197.3,250.8 190.0,252.0 187.5,254.5 186.0,250.0 185.0,242.0 185.0,236.0" fill="#fff" fill-opacity="1.0"/></g>
<ellipse cx="175" cy="248" rx="15" ry="10" transform="rotate(0,175,248)" fill="#fff" fill-opacity="0.7"/>
<ellipse cx="205" cy="226" rx="10" ry="5" transform="rotate(0,205,226)" fill="#fff" fill-opacity="0.4"/></g>
<g filter="url(#s4)"><g clip-path="url(#tclip)"><polygon points="186.3,231.8 189.0,234.0 193.6,233.0 201.0,228.1 205.9,225.7 210.8,224.5 215.7,223.2 218.5,226.0 220.6,228.1 222.0,232.0 223.5,236.5 221.1,239.4 218.2,242.3 216.2,246.2 217.2,251.1 216.2,256.0 213.2,255.7 209.6,254.5 204.7,252.0 197.3,250.8 190.0,252.0 187.5,254.5 186.0,250.0 185.0,242.0 185.0,236.0" fill="#fff" fill-opacity="0.55"/></g>
<ellipse cx="205" cy="237" rx="14" ry="11" transform="rotate(0,205,237)" fill="#fff" fill-opacity="0.75"/></g>
<ellipse cx="247" cy="178" rx="9" ry="3.2" transform="rotate(-28,247,178)" fill="#fff6f2" opacity="0.75"/>
</g>
<use href="#gridl"/>
<use href="#bnd"/>
</g></g>
<g fill="#3cc0ee" font-size="5.6px"><text x="26.4" y="779.7" text-anchor="end">137°30'</text>
<text x="31.7" y="798.0" text-anchor="middle">137°30'</text>
<text x="26.4" y="610.8" text-anchor="end">138°</text>
<text x="82.8" y="798.0" text-anchor="middle">138°</text>
<text x="26.4" y="450.4" text-anchor="end">138°30'</text>
<text x="132.0" y="798.0" text-anchor="middle">138°30'</text>
<text x="66.5" y="419.9" text-anchor="middle">139°</text>
<text x="181.6" y="798.0" text-anchor="middle">139°</text>
<text x="114.7" y="419.9" text-anchor="middle">139°30'</text>
<text x="232.3" y="798.0" text-anchor="middle">139°30'</text>
<text x="162.8" y="419.9" text-anchor="middle">140°</text>
<text x="282.0" y="798.0" text-anchor="middle">140°</text>
<text x="210.6" y="419.9" text-anchor="middle">140°30'</text>
<text x="330.7" y="775.7" text-anchor="start">140°30'</text>
<text x="258.8" y="419.9" text-anchor="middle">141°</text>
<text x="330.7" y="627.2" text-anchor="start">141°</text>
<text x="307.7" y="419.9" text-anchor="middle">141°30'</text>
<text x="330.7" y="482.4" text-anchor="start">141°30'</text>
<text x="0" y="0" text-anchor="middle" transform="translate(23.2,475.7) rotate(-90)">37°30'</text>
<text x="0" y="0" text-anchor="middle" transform="translate(197.3,412.0) rotate(-90)">37°30'</text>
<text x="0" y="0" text-anchor="middle" transform="translate(23.2,535.5) rotate(-90)">37°</text>
<text x="0" y="0" text-anchor="middle" transform="translate(334.0,439.3) rotate(-90)">37°</text>
<text x="0" y="0" text-anchor="middle" transform="translate(23.2,595.9) rotate(-90)">36°30'</text>
<text x="0" y="0" text-anchor="middle" transform="translate(334.0,498.7) rotate(-90)">36°30'</text>
<text x="0" y="0" text-anchor="middle" transform="translate(23.2,655.3) rotate(-90)">36°</text>
<text x="0" y="0" text-anchor="middle" transform="translate(334.0,559.3) rotate(-90)">36°</text>
<text x="0" y="0" text-anchor="middle" transform="translate(23.2,715.0) rotate(-90)">35°30'</text>
<text x="0" y="0" text-anchor="middle" transform="translate(334.0,620.6) rotate(-90)">35°30'</text>
<text x="0" y="0" text-anchor="middle" transform="translate(23.2,775.8) rotate(-90)">35°</text>
<text x="0" y="0" text-anchor="middle" transform="translate(334.0,681.8) rotate(-90)">35°</text>
<text x="0" y="0" text-anchor="middle" transform="translate(194.0,802.2) rotate(-90)">34°30'</text>
<text x="0" y="0" text-anchor="middle" transform="translate(334.0,741.7) rotate(-90)">34°30'</text></g>
<rect x="28.4" y="424.0" width="298.3" height="365.2" class="frame"/><clipPath id="fc5"><rect x="345.8" y="421.8" width="302.0" height="367.4"/></clipPath>
<g clip-path="url(#fc5)"><g transform="translate(318,398.5)">
<use href="#mapbase"/>
<g clip-path="url(#kclip)">
<g filter="url(#s1)"><polygon points="103.9,106.1 106.3,108.0 111.2,109.8 113.6,112.2 118.5,115.3 123.4,115.9 129.6,115.3 133.5,114.0 135.0,110.0 139.6,105.3 148.2,98.0 155.5,90.6 162.8,84.5 165.3,82.0 166.5,77.1 172.6,72.9 181.2,71.6 191.0,71.6 198.3,74.7 204.5,79.0 206.3,78.4 208.1,84.5 209.8,88.2 214.7,87.5 219.6,90.0 223.3,93.0 228.2,95.5 233.0,96.7 235.5,94.3 236.7,89.4 240.4,84.5 237.9,79.6 237.9,77.7 241.6,80.2 244.1,80.8 249.0,79.6 255.1,80.2 260.0,80.8 261.2,83.3 260.0,84.5 258.8,91.8 260.0,96.7 260.6,99.2 259.4,101.6 260.0,106.5 258.8,113.9 258.1,121.2 257.5,126.1 260.0,131.0 261.8,133.4 260.6,138.3 261.2,143.2 261.2,148.1 262.6,156.1 264.3,160.0 267.5,163.5 273.6,170.8 278.5,176.9 283.4,181.2 284.7,184.3 283.4,186.7 288.3,191.6 295.7,196.5 303.0,200.2 306.7,201.4 307.9,203.9 306.7,206.3 303.0,205.0 298.1,207.5 295.7,210.0 290.8,212.4 285.9,216.1 282.2,222.2 278.5,229.6 276.1,238.1 275.9,247.8 277.7,254.7 281.6,259.6 282.6,265.5 283.1,271.3 281.6,276.2 278.7,280.2 273.8,283.1 267.3,287.0 262.2,291.0 260.2,295.0 256.2,300.0 254.2,305.0 253.2,310.0 254.2,314.1 252.2,318.1 249.2,321.1 244.2,322.1 240.2,320.1 236.2,318.1 234.2,317.1 237.2,315.1 240.2,313.1 242.2,311.1 239.2,309.1 237.2,307.1 236.2,303.1 235.2,300.1 234.2,295.0 233.6,290.0 233.6,285.0 233.4,283.9 230.3,280.7 226.3,279.1 227.1,276.0 230.3,271.2 231.8,267.2 231.8,262.4 234.2,258.4 237.4,252.9 239.8,248.9 241.8,244.1 242.2,240.1 239.8,237.7 234.2,235.4 230.3,233.0 226.3,235.4 223.9,239.3 220.7,242.5 218.3,247.3 219.1,252.1 215.9,256.8 212.7,262.4 213.5,267.2 213.5,272.8 214.3,279.1 217.5,283.9 222.3,287.1 223.1,290.0 220.6,295.0 221.1,298.5 218.5,301.5 216.9,302.2 214.5,301.0 210.8,296.1 208.3,291.2 203.4,288.8 198.5,287.5 191.2,288.8 185.1,290.0 179.0,292.4 172.8,296.1 169.2,299.8 167.9,305.9 170.4,310.8 174.1,314.5 171.6,314.5 166.7,315.7 161.8,316.9 156.9,313.2 153.3,308.3 154.5,303.4 152.0,298.5 149.6,292.4 147.1,291.2 143.5,293.0 138.1,297.7 133.2,300.2 125.9,302.6 123.4,304.5 118.5,302.6 114.9,300.2 111.2,299.0 110.0,301.4 108.8,306.3 110.0,311.2 111.2,316.1 112.4,321.0 115.5,325.9 113.6,329.6 111.2,330.8 106.3,329.6 102.6,327.1 99.0,322.2 95.3,318.5 89.2,321.0 85.5,317.3 83.0,308.8 81.8,305.1 81.2,300.2 80.0,296.5 78.2,292.8 74.5,286.7 70.8,283.0 67.1,278.1 69.6,272.0 65.9,269.6 65.9,263.4 67.1,259.8 72.0,258.5 73.3,251.2 75.7,245.7 81.8,245.7 83.0,247.5 85.5,250.0 89.2,250.0 89.2,247.5 94.1,246.3 99.0,245.7 100.2,247.5 103.9,248.8 106.3,246.3 110.0,242.6 110.0,241.4 106.3,235.3 103.9,234.7 97.7,231.6 95.3,225.5 91.6,220.6 87.9,218.2 91.6,214.5 89.2,211.4 86.1,205.9 89.2,202.2 86.7,196.7 84.3,190.6 74.5,190.6 69.6,194.9 65.9,193.6 61.6,190.6 59.8,183.2 59.8,175.9 61.6,170.4 64.7,166.7 64.1,163.6 65.9,161.2 72.0,156.3 79.4,151.4 81.2,149.0 85.5,149.0 87.9,145.3 87.3,141.6 89.2,139.2 93.5,135.5 94.1,130.0 97.1,128.2 95.9,124.5 94.7,119.0 96.5,117.7 101.4,113.5 103.2,109.2" fill="#fff" fill-opacity="0.025"/>
<ellipse cx="133" cy="184" rx="24" ry="12" transform="rotate(-15,133,184)" fill="#fff" fill-opacity="0.75"/>
<ellipse cx="130" cy="183" rx="14" ry="8" transform="rotate(-15,130,183)" fill="#fff" fill-opacity="0.8999999999999999"/>
<ellipse cx="105" cy="160" rx="14" ry="8" transform="rotate(-20,105,160)" fill="#fff" fill-opacity="0.18"/>
<ellipse cx="152" cy="191" rx="18" ry="8" transform="rotate(-10,152,191)" fill="#fff" fill-opacity="0.6000000000000001"/>
<ellipse cx="170" cy="95" rx="30" ry="18" transform="rotate(0,170,95)" fill="#fff" fill-opacity="0.07500000000000001"/>
<ellipse cx="190" cy="116" rx="4" ry="24" transform="rotate(5,190,116)" fill="#fff" fill-opacity="0.675"/>
<ellipse cx="193" cy="145" rx="12" ry="12" transform="rotate(0,193,145)" fill="#fff" fill-opacity="0.5249999999999999"/>
<ellipse cx="190" cy="166" rx="24" ry="12" transform="rotate(-10,190,166)" fill="#fff" fill-opacity="0.44999999999999996"/>
<ellipse cx="191" cy="140" rx="9" ry="14" transform="rotate(0,191,140)" fill="#fff" fill-opacity="0.5249999999999999"/>
<ellipse cx="232" cy="105" rx="20" ry="22" transform="rotate(0,232,105)" fill="#fff" fill-opacity="0.09"/>
<ellipse cx="228" cy="168" rx="28" ry="34" transform="rotate(0,228,168)" fill="#fff" fill-opacity="0.5249999999999999"/>
<ellipse cx="248" cy="138" rx="8" ry="10" transform="rotate(0,248,138)" fill="#fff" fill-opacity="0.375"/>
<ellipse cx="152" cy="208" rx="20" ry="13" transform="rotate(0,152,208)" fill="#fff" fill-opacity="0.44999999999999996"/>
<ellipse cx="190" cy="208" rx="25" ry="14" transform="rotate(-10,190,208)" fill="#fff" fill-opacity="0.8250000000000001"/>
<ellipse cx="205" cy="222" rx="18" ry="12" transform="rotate(0,205,222)" fill="#fff" fill-opacity="1"/>
<ellipse cx="232" cy="219" rx="24" ry="18" transform="rotate(0,232,219)" fill="#fff" fill-opacity="0.75"/>
<ellipse cx="262" cy="215" rx="18" ry="12" transform="rotate(0,262,215)" fill="#fff" fill-opacity="0.22499999999999998"/>
<ellipse cx="252" cy="260" rx="24" ry="22" transform="rotate(0,252,260)" fill="#fff" fill-opacity="0.15000000000000002"/>
<ellipse cx="236" cy="262" rx="7" ry="20" transform="rotate(0,236,262)" fill="#fff" fill-opacity="0.22499999999999998"/>
<ellipse cx="246" cy="300" rx="12" ry="18" transform="rotate(0,246,300)" fill="#fff" fill-opacity="0.10500000000000001"/>
<ellipse cx="148" cy="245" rx="16" ry="9" transform="rotate(10,148,245)" fill="#fff" fill-opacity="0.30000000000000004"/>
<ellipse cx="176" cy="248" rx="12" ry="10" transform="rotate(0,176,248)" fill="#fff" fill-opacity="1"/>
<ellipse cx="200" cy="240" rx="38" ry="28" transform="rotate(0,200,240)" fill="#fff" fill-opacity="0.675"/>
<ellipse cx="192" cy="275" rx="22" ry="20" transform="rotate(0,192,275)" fill="#fff" fill-opacity="1"/>
<ellipse cx="158" cy="285" rx="10" ry="26" transform="rotate(0,158,285)" fill="#fff" fill-opacity="0.5249999999999999"/>
<ellipse cx="105" cy="271" rx="13" ry="9" transform="rotate(-20,105,271)" fill="#fff" fill-opacity="0.8999999999999999"/></g>
<g filter="url(#s2)"><polygon points="186.0,250.0 211.0,252.0 214.0,262.0 212.0,280.0 216.0,290.0 205.0,291.0 188.0,291.0 179.0,284.0 181.0,265.0" fill="#fff" fill-opacity="0.95"/>
<ellipse cx="177" cy="279" rx="10" ry="14" transform="rotate(0,177,279)" fill="#fff" fill-opacity="0.55"/>
<ellipse cx="170" cy="248" rx="18" ry="10" transform="rotate(0,170,248)" fill="#fff" fill-opacity="0.85"/>
<ellipse cx="196" cy="215" rx="27" ry="15" transform="rotate(-10,196,215)" fill="#fff" fill-opacity="0.78"/>
<ellipse cx="229" cy="224" rx="9" ry="14" transform="rotate(0,229,224)" fill="#fff" fill-opacity="0.5"/>
<ellipse cx="204" cy="240" rx="20" ry="15" transform="rotate(0,204,240)" fill="#fff" fill-opacity="1.0"/>
<ellipse cx="165" cy="292" rx="9" ry="7" transform="rotate(0,165,292)" fill="#fff" fill-opacity="0.4"/>
<ellipse cx="222" cy="210" rx="10" ry="6" transform="rotate(0,222,210)" fill="#fff" fill-opacity="0.35"/></g>
<g filter="url(#s3)"><g clip-path="url(#tclip)"><polygon points="186.3,231.8 189.0,234.0 193.6,233.0 201.0,228.1 205.9,225.7 210.8,224.5 215.7,223.2 218.5,226.0 220.6,228.1 222.0,232.0 223.5,236.5 221.1,239.4 218.2,242.3 216.2,246.2 217.2,251.1 216.2,256.0 213.2,255.7 209.6,254.5 204.7,252.0 197.3,250.8 190.0,252.0 187.5,254.5 186.0,250.0 185.0,242.0 185.0,236.0" fill="#fff" fill-opacity="1.0"/></g>
<ellipse cx="175" cy="248" rx="15" ry="10" transform="rotate(0,175,248)" fill="#fff" fill-opacity="0.7"/>
<ellipse cx="205" cy="226" rx="10" ry="5" transform="rotate(0,205,226)" fill="#fff" fill-opacity="0.4"/></g>
<g filter="url(#s4)"><g clip-path="url(#tclip)"><polygon points="186.3,231.8 189.0,234.0 193.6,233.0 201.0,228.1 205.9,225.7 210.8,224.5 215.7,223.2 218.5,226.0 220.6,228.1 222.0,232.0 223.5,236.5 221.1,239.4 218.2,242.3 216.2,246.2 217.2,251.1 216.2,256.0 213.2,255.7 209.6,254.5 204.7,252.0 197.3,250.8 190.0,252.0 187.5,254.5 186.0,250.0 185.0,242.0 185.0,236.0" fill="#fff" fill-opacity="0.25"/></g>
<ellipse cx="207" cy="236" rx="12" ry="9" transform="rotate(0,207,236)" fill="#fff" fill-opacity="0.6"/></g>
<ellipse cx="247" cy="178" rx="9" ry="3.2" transform="rotate(-28,247,178)" fill="#fff6f2" opacity="0.75"/>
</g>
<use href="#gridl"/>
<use href="#bnd"/>
</g></g>
<g fill="#3cc0ee" font-size="5.6px"><text x="343.8" y="774.3" text-anchor="end">137°30'</text>
<text x="350.7" y="798.0" text-anchor="middle">137°30'</text>
<text x="343.8" y="605.5" text-anchor="end">138°</text>
<text x="401.8" y="798.0" text-anchor="middle">138°</text>
<text x="343.8" y="445.1" text-anchor="end">138°30'</text>
<text x="451.0" y="798.0" text-anchor="middle">138°30'</text>
<text x="384.8" y="417.7" text-anchor="middle">139°</text>
<text x="500.6" y="798.0" text-anchor="middle">139°</text>
<text x="433.0" y="417.7" text-anchor="middle">139°30'</text>
<text x="551.3" y="798.0" text-anchor="middle">139°30'</text>
<text x="481.1" y="417.7" text-anchor="middle">140°</text>
<text x="601.1" y="798.0" text-anchor="middle">140°</text>
<text x="528.9" y="417.7" text-anchor="middle">140°30'</text>
<text x="651.8" y="781.9" text-anchor="start">140°30'</text>
<text x="577.1" y="417.7" text-anchor="middle">141°</text>
<text x="651.8" y="633.2" text-anchor="start">141°</text>
<text x="626.0" y="417.7" text-anchor="middle">141°30'</text>
<text x="651.8" y="488.2" text-anchor="start">141°30'</text>
<text x="0" y="0" text-anchor="middle" transform="translate(340.6,475.4) rotate(-90)">37°30'</text>
<text x="0" y="0" text-anchor="middle" transform="translate(520.8,409.8) rotate(-90)">37°30'</text>
<text x="0" y="0" text-anchor="middle" transform="translate(340.6,535.2) rotate(-90)">37°</text>
<text x="0" y="0" text-anchor="middle" transform="translate(655.1,437.9) rotate(-90)">37°</text>
<text x="0" y="0" text-anchor="middle" transform="translate(340.6,595.6) rotate(-90)">36°30'</text>
<text x="0" y="0" text-anchor="middle" transform="translate(655.1,497.3) rotate(-90)">36°30'</text>
<text x="0" y="0" text-anchor="middle" transform="translate(340.6,655.0) rotate(-90)">36°</text>
<text x="0" y="0" text-anchor="middle" transform="translate(655.1,557.9) rotate(-90)">36°</text>
<text x="0" y="0" text-anchor="middle" transform="translate(340.6,714.7) rotate(-90)">35°30'</text>
<text x="0" y="0" text-anchor="middle" transform="translate(655.1,619.2) rotate(-90)">35°30'</text>
<text x="0" y="0" text-anchor="middle" transform="translate(340.6,775.5) rotate(-90)">35°</text>
<text x="0" y="0" text-anchor="middle" transform="translate(655.1,680.4) rotate(-90)">35°</text>
<text x="0" y="0" text-anchor="middle" transform="translate(510.5,802.2) rotate(-90)">34°30'</text>
<text x="0" y="0" text-anchor="middle" transform="translate(655.1,740.3) rotate(-90)">34°30'</text></g>
<rect x="345.8" y="421.8" width="302.0" height="367.4" class="frame"/>
<rect x="70.5" y="336.6" width="116.5" height="15" fill="#fff"/>
<text x="72" y="347.8" class="lt">BCE_2000 (10,000t)</text>
<rect x="71.3" y="356.9" width="17.6" height="8.5" fill="#fee5d9"/>
<text x="92.6" y="365.5" class="lg">0.0&lt;BCE≤ 0.2</text>
<rect x="71.3" y="374.2" width="17.6" height="8.5" fill="#fcae91"/>
<text x="92.6" y="382.8" class="lg">0.2&lt;BCE≤ 1.0</text>
<rect x="189.2" y="339.6" width="17.6" height="8.5" fill="#fb6a4a"/>
<text x="210.5" y="348.2" class="lg">1.0&lt;BCE≤ 3.0</text>
<rect x="189.2" y="356.9" width="17.6" height="8.5" fill="#de2d26"/>
<text x="210.5" y="365.5" class="lg">3.0&lt;BCE≤ 5.0</text>
<rect x="189.2" y="374.2" width="17.6" height="8.5" fill="#a50f15"/>
<text x="210.5" y="382.8" class="lg">5.0&lt;BCE≤ 5.2</text><rect x="388.5" y="334.5" width="116.5" height="15" fill="#fff"/>
<text x="390" y="345.7" class="lt">BCE_2005 (10,000t)</text>
<rect x="389.3" y="354.8" width="17.6" height="8.5" fill="#fee5d9"/>
<text x="410.6" y="363.4" class="lg">0.0&lt;BCE≤ 0.2</text>
<rect x="389.3" y="372.1" width="17.6" height="8.5" fill="#fcae91"/>
<text x="410.6" y="380.7" class="lg">0.2&lt;BCE≤ 1.0</text>
<rect x="507.2" y="337.5" width="17.6" height="8.5" fill="#fb6a4a"/>
<text x="528.5" y="346.1" class="lg">1.0&lt;BCE≤ 3.0</text>
<rect x="507.2" y="354.8" width="17.6" height="8.5" fill="#de2d26"/>
<text x="528.5" y="363.4" class="lg">3.0&lt;BCE≤ 5.0</text>
<rect x="507.2" y="372.1" width="17.6" height="8.5" fill="#a50f15"/>
<text x="528.5" y="380.7" class="lg">5.0&lt;BCE≤ 6.0</text><rect x="709.0" y="337.5" width="116.5" height="15" fill="#fff"/>
<text x="710.5" y="348.7" class="lt">BCE_2010 (10,000t)</text>
<rect x="709.8" y="357.8" width="17.6" height="8.5" fill="#fee5d9"/>
<text x="731.1" y="366.4" class="lg">0.0&lt;BCE≤ 0.2</text>
<rect x="709.8" y="375.1" width="17.6" height="8.5" fill="#fcae91"/>
<text x="731.1" y="383.7" class="lg">0.2&lt;BCE≤ 1.0</text>
<rect x="827.7" y="340.5" width="17.6" height="8.5" fill="#fb6a4a"/>
<text x="849.0" y="349.1" class="lg">1.0&lt;BCE≤ 3.0</text>
<rect x="827.7" y="357.8" width="17.6" height="8.5" fill="#de2d26"/>
<text x="849.0" y="366.4" class="lg">3.0&lt;BCE≤ 5.0</text>
<rect x="827.7" y="375.1" width="17.6" height="8.5" fill="#a50f15"/>
<text x="849.0" y="383.7" class="lg">5.0&lt;BCE≤ 6.1</text><rect x="71.0" y="736.3" width="116.5" height="15" fill="#fff"/>
<text x="72.5" y="747.5" class="lt">BCE_2015 (10,000t)</text>
<rect x="71.8" y="756.6" width="17.6" height="8.5" fill="#fee5d9"/>
<text x="93.1" y="765.2" class="lg">0.0&lt;BCE≤ 0.2</text>
<rect x="71.8" y="773.9" width="17.6" height="8.5" fill="#fcae91"/>
<text x="93.1" y="782.5" class="lg">0.2&lt;BCE≤ 1.0</text>
<rect x="189.7" y="739.3" width="17.6" height="8.5" fill="#fb6a4a"/>
<text x="211.0" y="747.9" class="lg">1.0&lt;BCE≤ 3.0</text>
<rect x="189.7" y="756.6" width="17.6" height="8.5" fill="#de2d26"/>
<text x="211.0" y="765.2" class="lg">3.0&lt;BCE≤ 5.0</text>
<rect x="189.7" y="773.9" width="17.6" height="8.5" fill="#a50f15"/>
<text x="211.0" y="782.5" class="lg">5.0&lt;BCE≤ 7.3</text><rect x="388.5" y="734.5" width="116.5" height="15" fill="#fff"/>
<text x="390" y="745.7" class="lt">BCE_2019 (10,000t)</text>
<rect x="389.3" y="754.8" width="17.6" height="8.5" fill="#fee5d9"/>
<text x="410.6" y="763.4" class="lg">0.0&lt;BCE≤ 0.2</text>
<rect x="389.3" y="772.1" width="17.6" height="8.5" fill="#fcae91"/>
<text x="410.6" y="780.7" class="lg">0.2&lt;BCE≤ 1.0</text>
<rect x="507.2" y="737.5" width="17.6" height="8.5" fill="#fb6a4a"/>
<text x="528.5" y="746.1" class="lg">1.0&lt;BCE≤ 3.0</text>
<rect x="507.2" y="754.8" width="17.6" height="8.5" fill="#de2d26"/>
<text x="528.5" y="763.4" class="lg">3.0&lt;BCE≤ 5.0</text>
<rect x="507.2" y="772.1" width="17.6" height="8.5" fill="#a50f15"/>
<text x="528.5" y="780.7" class="lg">5.0&lt;BCE≤ 6.6</text>
</svg>
</body></html>
